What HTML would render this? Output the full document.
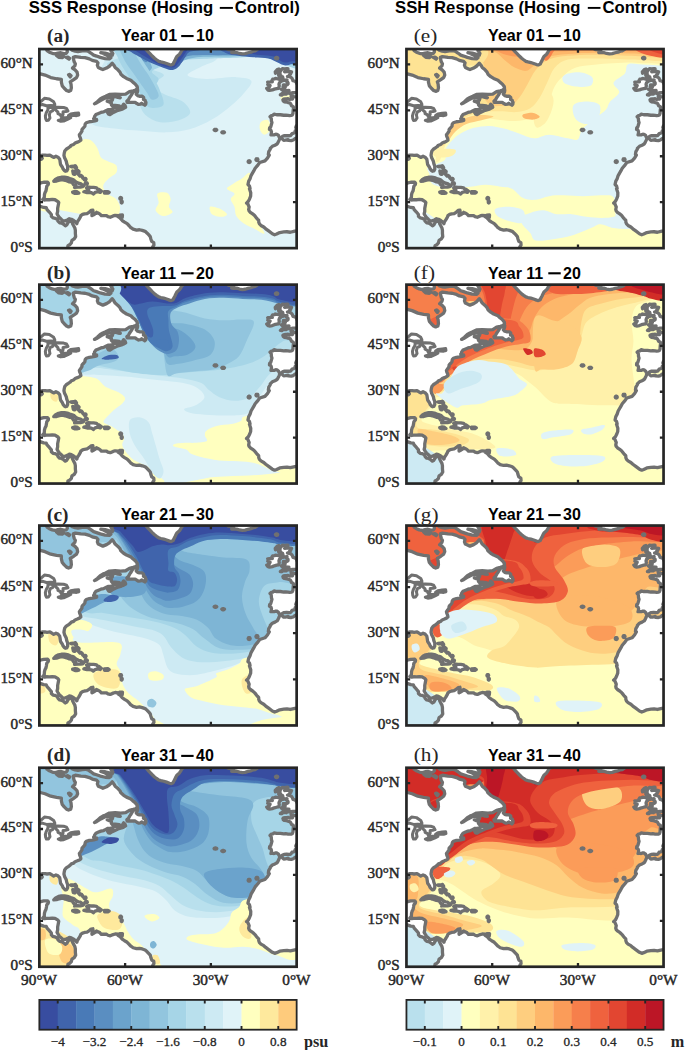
<!DOCTYPE html><html><head><meta charset="utf-8"><title>SSS/SSH Response</title><style>
html,body{margin:0;padding:0;background:#fff;}body{width:685px;height:1050px;overflow:hidden;}
svg{display:block;}text{font-family:"Liberation Serif",serif;fill:#262626;}.tl{stroke:#262626;stroke-width:0.45px;}
.sb{font-family:"Liberation Sans",sans-serif;font-weight:bold;fill:#000;}
</style></head><body>
<svg width="685" height="1050" viewBox="0 0 685 1050">
<defs>
<clipPath id="pc"><rect x="0" y="0" width="257.3" height="199.1"/></clipPath>
<g id="land">
<path d="M-14.3,24.5 L-7.1,23.9 L0.0,24.5 L5.7,26.0 L11.4,28.5 L17.2,29.7 L22.0,30.3 L22.0,33.1 L22.9,36.8 L24.9,39.2 L27.2,41.4 L29.2,42.3 L31.4,41.4 L32.0,38.9 L31.7,35.2 L30.9,32.8 L34.3,30.6 L37.2,28.5 L38.3,26.0 L37.7,23.0 L35.7,20.8 L33.2,19.0 L35.5,16.8 L36.0,14.7 L34.9,12.9 L34.3,10.7 L34.0,8.3 L36.0,7.5 L41.5,8.3 L45.7,8.6 L50.0,9.8 L52.9,11.3 L57.2,12.3 L58.6,13.8 L58.0,16.2 L58.9,18.4 L61.5,19.6 L63.5,20.5 L67.2,19.0 L70.0,17.2 L71.8,15.3 L72.9,14.1 L74.3,15.9 L75.8,18.4 L78.6,20.8 L80.6,23.0 L81.5,25.1 L84.3,27.6 L87.2,29.4 L91.5,31.2 L93.5,33.1 L95.8,34.9 L97.8,37.4 L98.1,39.2 L96.3,41.0 L93.8,41.7 L90.1,42.6 L86.3,45.0 L81.5,45.3 L75.8,45.0 L70.0,45.3 L66.3,47.2 L63.5,48.4 L60.9,49.9 L58.0,52.7 L55.2,54.8 L57.2,53.9 L61.5,51.2 L65.8,49.0 L70.0,48.4 L73.5,49.3 L72.9,51.2 L70.0,52.1 L67.8,52.1 L70.0,53.0 L72.0,53.6 L72.0,55.7 L73.5,57.3 L75.8,58.5 L78.6,59.1 L81.5,59.1 L82.9,57.3 L84.3,55.1 L85.8,56.7 L86.3,58.2 L84.3,59.4 L82.1,60.3 L78.6,61.3 L75.5,62.8 L72.9,64.0 L70.6,65.5 L69.2,65.2 L68.3,63.7 L70.0,62.2 L72.9,61.0 L73.8,60.0 L70.9,60.6 L68.6,60.6 L66.0,61.9 L64.3,62.8 L61.5,63.4 L58.6,64.6 L56.6,65.5 L55.2,67.4 L54.9,68.9 L54.3,69.5 L55.5,70.8 L57.2,70.3 L57.3,71.4 L55.7,71.8 L52.9,72.3 L50.0,72.7 L46.9,73.7 L46.0,74.7 L45.7,75.7 L45.5,77.2 L44.0,79.0 L43.0,79.9 L42.6,80.6 L42.6,82.1 L41.2,84.2 L40.0,85.8 L40.3,87.3 L41.2,89.4 L41.5,91.1 L40.0,92.2 L38.0,93.1 L35.7,94.0 L34.3,95.4 L32.0,96.2 L30.6,97.7 L28.9,98.9 L26.9,100.2 L25.4,102.0 L24.9,104.1 L24.6,106.3 L25.2,108.7 L26.0,110.3 L26.9,112.1 L27.4,114.6 L28.3,117.0 L28.3,120.1 L27.4,121.9 L26.0,122.2 L25.2,121.6 L23.7,119.8 L22.9,117.9 L21.2,115.5 L20.9,113.6 L20.6,111.5 L20.3,110.0 L18.6,108.1 L16.6,107.2 L14.3,108.4 L12.9,107.5 L10.6,106.0 L7.7,106.3 L5.7,106.0 L3.4,106.0 L1.1,106.6 L1.4,107.8 L2.9,109.4 L2.0,110.3 L0.0,110.0 L-2.9,109.4 L-11.4,108.4 L-20.0,116.4 L-21.4,131.7 L-11.4,142.4 L-4.3,142.4 L-1.4,139.4 L-1.1,136.3 L-0.9,134.8 L1.4,133.9 L4.3,133.2 L8.3,133.1 L9.1,134.2 L8.9,135.4 L7.4,137.2 L7.1,139.4 L6.6,141.8 L5.7,143.4 L5.1,145.5 L4.9,148.6 L3.4,150.4 L5.1,151.0 L7.1,150.6 L10.0,150.7 L12.9,150.4 L15.7,150.7 L18.6,152.5 L19.4,153.5 L18.9,156.2 L18.3,159.3 L18.3,162.3 L17.7,164.8 L18.6,166.3 L20.0,168.5 L21.7,170.0 L23.4,171.7 L25.7,171.8 L28.0,170.9 L30.0,169.7 L32.0,170.2 L34.3,171.5 L36.0,172.8 L37.5,174.6 L38.0,172.8 L39.5,170.6 L40.9,168.2 L41.5,166.6 L43.2,165.4 L45.2,164.8 L47.7,164.5 L50.0,163.0 L51.7,161.4 L53.5,161.1 L53.7,163.0 L52.6,165.4 L52.6,166.6 L54.3,165.7 L55.7,164.8 L57.2,163.3 L57.5,164.2 L58.6,163.9 L60.6,165.1 L62.0,166.6 L64.3,166.6 L67.2,166.6 L68.6,167.6 L70.9,168.2 L73.8,166.9 L75.8,166.3 L79.2,166.6 L80.3,166.3 L78.6,167.6 L80.6,168.8 L82.9,171.5 L85.2,173.1 L87.8,174.6 L89.8,176.7 L91.2,178.3 L93.8,180.1 L97.2,181.0 L100.1,180.7 L102.9,181.3 L105.8,182.3 L107.8,184.1 L109.5,185.9 L110.9,187.5 L111.5,189.9 L112.4,192.4 L114.4,193.6 L114.6,196.0 L113.5,197.6 L112.9,199.1 L114.4,202.2 L120.1,205.2 L120.1,214.4 L25.7,214.4 L25.7,205.2 L27.2,202.2 L28.3,199.1 L28.6,196.6 L30.3,195.7 L32.0,193.9 L32.6,191.4 L34.9,189.9 L36.3,187.5 L36.0,184.4 L36.0,181.3 L35.5,178.9 L34.3,176.7 L33.2,174.6 L32.9,172.8 L30.0,171.8 L28.6,173.7 L27.4,175.8 L26.0,176.7 L24.3,175.2 L22.3,174.0 L20.3,173.7 L18.6,172.1 L18.0,170.3 L15.4,169.1 L13.7,168.8 L12.0,167.2 L12.0,165.4 L10.0,163.0 L7.7,160.5 L6.9,158.7 L4.3,158.4 L1.4,157.4 L-1.4,156.5 L-4.3,155.6 L-8.6,151.6 L-17.2,150.1 L-28.6,147.0 L-28.6,24.5Z M104.3,-4.6 L106.4,0.0 L108.6,2.5 L110.6,4.6 L112.9,7.0 L115.2,9.2 L117.2,10.7 L119.5,12.3 L121.5,12.9 L124.4,13.5 L127.2,14.4 L130.1,15.5 L131.8,15.9 L133.8,15.0 L134.4,13.5 L135.5,11.6 L136.4,9.5 L137.5,7.4 L140.1,5.2 L141.5,3.1 L142.4,1.2 L144.4,-0.3 L148.7,-1.8 L151.5,-4.6Z M187.3,-3.1 L188.1,0.0 L189.3,0.6 L193.0,0.8 L194.4,1.8 L194.1,2.8 L192.4,3.5 L194.4,3.6 L197.3,3.5 L200.1,4.4 L203.0,4.9 L205.8,4.6 L208.7,3.7 L211.6,3.1 L213.8,2.1 L215.8,1.8 L217.3,0.9 L218.7,-0.3 L219.0,-3.1Z M28.6,-3.1 L32.9,1.2 L35.7,2.1 L38.6,2.5 L42.9,1.8 L45.7,1.5 L48.6,2.1 L51.5,4.0 L54.3,6.1 L57.2,7.0 L60.9,8.3 L65.8,9.5 L70.0,9.8 L71.5,8.6 L68.6,6.7 L64.3,4.6 L61.5,3.7 L65.8,4.0 L70.0,5.2 L72.9,6.1 L73.5,4.3 L71.5,1.5 L74.3,0.0 L77.2,-1.5 L80.0,-4.6 L28.6,-4.6Z M5.7,-3.1 L7.7,1.5 L10.0,3.1 L12.9,4.3 L15.7,4.9 L18.6,4.0 L21.4,3.7 L24.3,4.6 L26.9,4.3 L28.0,2.8 L27.2,-3.1Z M17.2,6.4 L19.4,8.3 L22.9,8.6 L24.6,7.4 L22.0,5.8 L19.2,5.8Z M26.9,8.3 L29.7,10.1 L30.3,9.2 L28.6,8.0Z M29.2,25.7 L30.9,27.9 L31.7,26.6 L30.3,25.4Z M87.8,53.3 L87.5,52.1 L89.2,50.5 L90.3,48.4 L91.8,46.3 L93.2,43.8 L94.9,42.0 L98.3,41.0 L98.1,42.9 L96.9,45.3 L98.3,46.6 L100.1,47.2 L102.9,47.2 L104.3,48.4 L104.1,50.5 L105.8,51.2 L106.1,52.7 L106.6,53.3 L106.4,55.1 L105.5,56.2 L104.3,55.4 L103.2,54.8 L102.3,54.2 L101.2,55.1 L99.2,55.4 L97.5,54.5 L95.8,53.3 L92.9,53.3 L90.1,53.3Z M72.9,46.3 L77.2,47.2 L80.9,48.7 L78.6,48.4 L74.3,47.2Z M73.2,56.4 L75.8,56.4 L80.0,56.8 L78.6,58.2 L75.8,57.3Z M14.4,132.2 L16.3,130.2 L19.2,128.8 L22.0,128.2 L25.2,128.2 L28.0,128.6 L31.4,129.9 L34.3,130.8 L36.6,132.9 L39.2,134.2 L41.2,134.5 L44.3,136.9 L43.2,137.7 L41.2,138.1 L38.6,138.0 L35.2,138.3 L36.3,136.3 L34.3,135.7 L32.6,133.2 L30.0,132.8 L27.2,131.7 L24.9,131.1 L22.9,130.5 L20.0,131.1 L17.2,132.0Z M44.5,142.7 L46.9,142.1 L49.5,141.8 L49.2,140.0 L47.3,138.8 L49.2,138.0 L51.5,138.3 L54.3,138.3 L57.2,138.8 L58.3,140.0 L59.5,140.3 L61.9,142.1 L60.9,143.4 L58.6,142.7 L55.7,143.4 L54.0,145.0 L52.3,143.7 L50.0,143.4 L47.7,143.5Z M33.3,143.0 L35.7,142.4 L37.7,142.7 L39.5,144.0 L37.5,144.4 L35.7,144.4 L33.4,143.4Z M65.0,142.7 L68.6,142.6 L69.8,143.4 L68.6,144.1 L65.2,144.1Z M80.3,166.0 L83.1,165.9 L82.9,168.3 L80.3,168.2Z M258.7,89.1 L257.6,89.0 L256.4,89.3 L255.5,89.7 L253.9,91.0 L252.0,91.6 L248.9,91.4 L248.9,90.5 L246.1,91.1 L244.4,91.3 L242.1,89.1 L240.4,89.4 L239.7,91.3 L238.4,94.0 L237.7,95.0 L235.6,96.2 L233.0,97.3 L230.9,99.4 L230.9,100.2 L229.4,102.6 L229.0,105.4 L229.9,106.0 L228.1,109.0 L225.6,111.8 L220.4,113.5 L218.7,115.8 L215.8,119.2 L214.4,121.9 L211.7,126.5 L210.7,129.6 L209.3,132.3 L208.6,135.5 L210.1,136.9 L210.7,139.4 L210.1,139.8 L211.4,143.7 L211.3,147.0 L210.1,150.1 L209.0,152.2 L207.2,154.0 L208.4,154.7 L209.3,156.8 L209.8,157.9 L209.3,160.5 L209.6,161.1 L209.6,161.7 L211.0,163.3 L213.3,164.8 L214.4,165.7 L215.6,166.9 L217.3,169.1 L218.1,170.0 L219.3,171.2 L219.4,173.1 L220.1,174.9 L221.6,176.4 L224.4,178.0 L226.4,179.8 L229.3,181.9 L233.0,184.7 L235.3,185.7 L237.3,185.0 L240.4,183.5 L244.4,182.9 L247.6,182.7 L251.0,183.2 L254.4,182.4 L256.7,181.9 L258.7,181.3 L260.2,181.3 L260.2,89.1Z M260.2,45.9 L257.9,47.6 L257.3,47.9 L255.9,47.9 L253.9,47.8 L253.6,46.9 L251.7,46.9 L252.0,48.1 L252.7,49.6 L253.0,50.1 L251.6,50.1 L250.2,50.4 L248.7,49.6 L247.0,49.8 L245.9,49.9 L244.1,50.2 L243.6,50.8 L244.6,51.5 L243.9,51.9 L244.9,52.7 L247.3,53.0 L248.7,53.5 L250.2,53.9 L251.0,54.4 L251.6,55.4 L252.2,56.7 L253.9,57.6 L254.2,59.1 L253.9,60.3 L253.7,62.5 L253.6,64.3 L253.0,65.9 L252.2,66.3 L250.2,66.5 L248.7,66.3 L246.4,66.0 L244.4,66.2 L241.0,65.7 L238.7,65.7 L237.3,65.7 L234.7,65.1 L233.6,66.2 L231.9,66.5 L230.7,67.7 L231.9,69.2 L232.0,70.5 L232.1,72.0 L232.6,73.5 L231.9,76.0 L231.4,77.8 L230.3,78.7 L230.1,80.4 L231.0,80.7 L231.6,81.3 L232.1,82.7 L232.0,84.2 L231.6,85.8 L233.0,85.5 L234.7,85.8 L236.4,85.2 L237.6,85.3 L239.1,86.4 L239.6,87.6 L240.1,88.2 L241.3,88.8 L242.0,88.4 L243.3,87.3 L244.7,86.7 L247.3,86.5 L249.6,86.7 L251.0,86.6 L251.9,85.8 L252.7,84.5 L254.4,84.1 L255.3,83.6 L255.9,81.8 L257.3,80.7 L257.9,80.4 L257.0,79.6 L256.4,78.4 L257.0,76.9 L258.2,75.7 L260.2,75.7Z M260.2,43.8 L257.3,43.6 L255.0,43.6 L253.6,43.6 L251.6,44.0 L250.3,44.3 L248.7,43.8 L247.4,44.1 L247.0,45.0 L245.6,44.9 L243.9,45.0 L242.4,46.0 L241.0,45.8 L241.6,45.3 L243.0,44.4 L244.1,43.2 L245.3,42.3 L247.3,42.3 L248.7,41.8 L249.6,41.4 L248.2,41.5 L245.6,41.0 L245.0,40.7 L243.0,40.9 L242.1,40.3 L243.0,39.8 L245.0,38.9 L245.9,38.0 L244.4,37.4 L243.7,37.4 L244.7,36.8 L244.1,35.8 L245.9,35.8 L247.9,35.7 L248.7,34.9 L248.7,33.7 L248.2,33.1 L247.0,32.2 L247.6,30.9 L245.9,31.1 L243.3,31.7 L242.7,30.6 L243.6,29.1 L243.3,27.9 L241.3,29.7 L241.0,28.2 L241.6,26.6 L240.1,25.7 L240.7,24.5 L239.3,23.3 L241.0,22.1 L242.1,20.8 L243.0,19.6 L245.0,19.8 L247.6,19.5 L248.6,19.5 L248.4,20.5 L246.4,21.7 L245.3,22.8 L247.3,22.5 L250.2,22.4 L252.2,22.8 L251.6,23.9 L251.3,24.8 L250.2,25.7 L249.9,26.6 L248.2,27.4 L249.9,27.6 L251.6,28.2 L252.7,29.4 L253.3,30.6 L253.6,31.7 L255.6,32.2 L257.0,33.4 L257.6,34.9 L260.2,35.2Z M236.1,29.4 L239.6,30.0 L241.0,31.2 L241.6,32.5 L240.1,33.7 L239.6,35.2 L239.9,36.8 L239.3,39.2 L237.3,39.5 L235.0,40.1 L233.0,40.9 L230.1,41.4 L228.7,41.0 L227.9,40.1 L227.4,39.4 L229.6,38.3 L230.1,37.8 L230.7,36.5 L228.4,35.5 L229.3,34.3 L228.4,33.1 L231.6,32.8 L233.0,32.8 L232.4,31.7 L233.3,30.2 L235.3,29.9Z M31.4,117.3 L34.3,117.2 L34.6,117.9 L32.0,117.9Z M36.0,116.7 L37.2,118.5 L36.6,119.8 L35.7,117.9Z M33.4,121.9 L35.2,122.5 L35.5,125.3 L34.0,125.0Z M38.0,121.0 L39.7,122.5 L39.5,123.4 L38.6,122.2Z M37.5,123.7 L40.6,127.1 L41.2,126.8 L38.0,123.4Z M42.0,126.5 L43.5,129.0 L42.9,127.4Z M48.0,134.5 L47.7,133.9 L46.9,133.7 L46.1,133.9 L45.7,134.5 L46.1,135.0 L46.9,135.2 L47.7,135.0Z M46.7,130.2 L46.4,129.5 L45.7,129.3 L45.0,129.5 L44.7,130.2 L45.0,130.8 L45.7,131.1 L46.4,130.8Z M82.2,149.3 L81.9,148.7 L81.3,148.4 L80.7,148.7 L80.5,149.3 L80.7,150.0 L81.3,150.2 L81.9,150.0Z M82.9,152.8 L82.7,152.1 L82.3,151.8 L81.9,152.1 L81.8,152.8 L81.9,153.6 L82.3,153.9 L82.7,153.6Z M177.4,80.9 L177.0,80.4 L176.1,80.3 L175.2,80.4 L174.8,80.9 L175.2,81.3 L176.1,81.5 L177.0,81.3Z M185.1,83.3 L184.7,82.9 L183.8,82.7 L182.9,82.9 L182.5,83.3 L182.9,83.7 L183.8,83.9 L184.7,83.7Z M210.8,112.6 L210.5,111.9 L209.8,111.6 L209.1,111.9 L208.8,112.6 L209.1,113.2 L209.8,113.5 L210.5,113.2Z M218.6,110.6 L218.3,109.9 L217.6,109.7 L216.9,109.9 L216.6,110.6 L216.9,111.2 L217.6,111.5 L218.3,111.2Z M238.4,9.0 L238.1,8.5 L237.3,8.3 L236.5,8.5 L236.1,9.0 L236.5,9.6 L237.3,9.8 L238.1,9.6Z M236.1,24.2 L239.6,19.9 L237.9,20.5 L235.9,22.7Z M240.7,23.6 L240.4,22.9 L239.6,22.7 L238.8,22.9 L238.4,23.6 L238.8,24.2 L239.6,24.5 L240.4,24.2Z M241.0,26.2 L240.8,25.8 L240.1,25.6 L239.5,25.8 L239.3,26.2 L239.5,26.6 L240.1,26.8 L240.8,26.6Z" fill="#fff" stroke="#707070" stroke-width="3.3" stroke-linejoin="round" fill-rule="nonzero"/>
<path d="M-6.0,56.1 L-1.4,56.4 L2.9,55.4 L7.1,56.7 L11.4,56.4 L15.4,56.7 L15.4,55.1 L14.3,52.7 L10.0,49.9 L5.1,49.3 L2.0,52.1 L-2.0,54.2Z M8.6,58.5 L11.4,58.5 L14.3,59.1 L13.2,61.9 L10.9,62.8 L10.0,65.9 L10.6,68.9 L9.1,71.2 L7.1,71.4 L6.3,69.5 L6.0,66.8 L6.9,63.7 L8.6,60.6Z M15.2,58.5 L18.6,58.2 L24.3,58.5 L27.2,59.4 L28.6,61.9 L26.3,62.5 L23.7,62.8 L23.7,65.5 L21.7,67.4 L21.2,65.9 L18.6,64.6 L18.6,63.1 L15.7,60.3Z M18.9,71.4 L21.4,72.3 L24.3,72.0 L28.6,70.1 L31.4,68.6 L30.0,67.7 L27.2,68.6 L24.3,68.6 L21.4,70.5Z M29.2,66.5 L32.9,66.3 L37.2,66.6 L39.5,65.9 L39.2,64.0 L35.7,64.3 L31.4,64.9Z" fill="none" stroke="#707070" stroke-width="3.0" stroke-linejoin="round"/>
</g>
</defs>
<g transform="translate(39.35,49.05) scale(1,1.0000)">
<g clip-path="url(#pc)">
<rect x="-5" y="-5" width="270" height="210" fill="#e0f3f8"/><path d="M52.5,75.0C56.6,78.3 66.9,78.4 75.0,79.5C83.2,80.7 92.6,81.2 101.3,81.8C110.1,82.4 119.4,83.6 127.6,83.3C135.7,83.1 142.6,82.4 150.1,80.3C157.6,78.2 165.7,74.4 172.6,70.5C179.5,66.7 186.1,61.4 191.4,57.0C196.7,52.7 201.1,48.5 204.5,44.3C207.9,40.1 213.3,34.6 212.0,31.9C210.8,29.2 204.5,28.5 197.0,28.1C189.5,27.8 175.1,30.3 167.0,30.0C158.8,29.7 149.2,28.3 148.2,26.3C147.3,24.3 156.7,20.5 161.4,18.0C166.0,15.5 173.9,13.6 176.4,11.3C178.9,8.9 182.0,5.1 176.4,3.8C170.7,2.4 153.2,3.1 142.6,3.0C132.0,2.9 121.3,3.2 112.6,3.0C103.8,2.8 96.9,1.4 90.1,1.9C83.2,2.3 76.3,2.2 71.3,5.6C66.3,9.1 62.5,16.6 60.0,22.5C57.5,28.5 57.8,35.0 56.3,41.3C54.7,47.5 51.3,54.4 50.7,60.0C50.0,65.7 48.5,71.8 52.5,75.0Z" fill="#cdeaf3"/><path d="M67.5,15.0C66.5,17.5 77.4,18.8 80.7,22.5C83.9,26.3 84.1,32.5 87.1,37.5C90.0,42.5 95.2,47.8 98.3,52.5C101.4,57.2 102.1,62.2 105.8,65.7C109.6,69.1 115.2,72.2 120.8,73.2C126.5,74.1 134.6,72.9 139.6,71.3C144.6,69.7 150.2,66.9 150.8,63.8C151.5,60.7 147.7,55.7 143.3,52.5C139.0,49.4 129.6,47.8 124.6,45.0C119.6,42.2 113.3,38.8 113.3,35.6C113.3,32.5 124.6,28.8 124.6,26.3C124.6,23.8 117.7,22.5 113.3,20.6C108.9,18.8 102.7,17.2 98.3,15.0C93.9,12.8 92.2,7.5 87.1,7.5C81.9,7.5 68.6,12.5 67.5,15.0Z" fill="#b9e0ed"/><path d="M84.4,-1.9C56.3,-0.0 88.2,5.6 90.1,9.4C91.9,13.1 93.5,16.9 95.7,20.6C97.9,24.4 100.4,29.1 103.2,31.9C106.0,34.7 109.9,37.8 112.6,37.5C115.3,37.2 119.3,32.5 119.3,30.0C119.3,27.5 111.8,24.7 112.6,22.5C113.3,20.3 118.8,18.8 123.8,16.9C128.8,15.0 135.7,12.4 142.6,11.3C149.5,10.1 157.6,10.1 165.1,9.8C172.6,9.4 177.6,9.3 187.6,9.0C197.6,8.8 213.3,6.5 225.1,8.3C237.0,10.0 253.3,21.2 258.9,19.5C264.5,17.8 288.0,1.7 258.9,-1.9C229.8,-5.4 112.6,-3.8 84.4,-1.9Z" fill="#a6d5e7"/><path d="M85.6,-1.9C57.7,-0.0 89.8,5.9 91.9,9.4C94.1,12.8 95.8,16.4 98.3,18.8C100.8,21.1 104.6,23.3 106.9,23.3C109.3,23.3 111.9,20.8 112.6,18.8C113.2,16.8 108.8,11.6 110.7,11.3C112.6,10.9 119.1,16.6 123.8,16.9C128.5,17.2 133.2,14.6 138.8,13.1C144.5,11.7 149.5,9.2 157.6,8.3C165.7,7.3 176.4,7.8 187.6,7.5C198.9,7.3 213.3,5.3 225.1,6.8C237.0,8.3 253.3,17.9 258.9,16.5C264.5,15.1 287.8,1.2 258.9,-1.9C230.0,-4.9 113.4,-3.8 85.6,-1.9Z" fill="#7eb5d5"/><path d="M93.8,-1.9C67.2,-0.3 97.2,5.0 99.4,7.5C101.6,10.0 104.8,13.1 106.9,13.1C109.1,13.1 110.4,7.2 112.6,7.5C114.8,7.8 116.9,13.1 120.1,15.0C123.2,16.9 127.6,19.1 131.3,18.8C135.1,18.4 139.5,15.1 142.6,13.1C145.7,11.1 142.6,7.9 150.1,6.8C157.6,5.6 175.1,6.3 187.6,6.0C200.1,5.8 213.3,3.8 225.1,5.3C237.0,6.8 253.3,16.2 258.9,15.0C264.5,13.8 286.4,0.9 258.9,-1.9C231.4,-4.7 120.4,-3.4 93.8,-1.9Z" fill="#5a8ec1"/><path d="M75.0,-1.9C71.7,-0.8 76.8,4.4 78.0,7.5C79.3,10.6 80.8,13.8 82.6,16.9C84.3,20.0 86.4,23.0 88.6,26.3C90.7,29.6 93.2,33.1 95.7,36.8C98.1,40.4 100.9,44.5 103.2,48.0C105.5,51.6 106.1,56.8 109.6,58.2C113.0,59.5 122.0,59.0 123.8,56.3C125.7,53.6 122.4,46.5 120.8,42.0C119.3,37.5 116.6,33.1 114.4,29.3C112.3,25.4 110.1,22.1 108.1,18.8C106.0,15.4 103.7,12.4 102.1,9.4C100.4,6.4 102.8,2.6 98.3,0.8C93.8,-1.1 78.4,-3.0 75.0,-1.9Z" fill="#a6d5e7"/><path d="M80.7,-1.9C78.9,-0.8 82.1,4.6 83.3,7.5C84.5,10.4 86.1,13.0 87.8,15.8C89.6,18.5 91.7,21.0 93.8,24.0C95.9,27.0 98.3,30.6 100.6,33.8C102.8,37.0 105.3,40.3 107.3,43.2C109.3,46.0 110.6,50.0 112.6,50.7C114.6,51.3 118.9,49.3 119.3,46.9C119.7,44.5 116.6,39.6 114.8,36.0C113.1,32.5 110.8,28.7 108.8,25.5C106.8,22.3 104.7,19.8 102.8,16.9C100.9,14.0 99.1,10.9 97.6,8.3C96.1,5.6 96.6,2.4 93.8,0.8C91.0,-0.9 82.4,-3.0 80.7,-1.9Z" fill="#92c5de"/><path d="M88.2,-1.9C76.5,-1.1 90.1,1.4 91.9,3.0C93.8,4.6 96.6,5.9 99.4,7.5C102.3,9.1 106.0,11.0 108.8,12.4C111.6,13.8 113.8,14.7 116.3,15.8C118.8,16.8 121.6,17.9 123.8,18.8C126.0,19.6 127.7,20.3 129.5,20.6C131.2,21.0 132.8,21.1 134.3,20.6C135.9,20.2 137.5,19.3 138.8,18.0C140.2,16.8 141.3,14.9 142.6,13.1C143.8,11.4 145.1,9.2 146.3,7.5C147.6,5.8 147.6,4.1 150.1,3.0C152.6,1.9 159.3,1.6 161.4,0.8C163.4,-0.1 174.3,-1.4 162.1,-1.9C149.9,-2.3 99.9,-2.7 88.2,-1.9Z" fill="#4064ac"/><path d="M185.7,-1.9C173.9,-0.8 185.4,3.1 187.6,4.5C189.8,5.9 194.5,6.1 198.9,6.8C203.3,7.4 208.9,7.8 213.9,8.3C218.9,8.7 224.8,8.5 228.9,9.4C233.0,10.3 235.5,12.3 238.3,13.5C241.1,14.7 243.5,16.3 245.8,16.5C248.1,16.8 250.0,15.5 252.2,15.0C254.3,14.5 257.8,16.3 258.9,13.5C260.0,10.7 271.1,0.7 258.9,-1.9C246.7,-4.4 197.6,-2.9 185.7,-1.9Z" fill="#4064ac"/><path d="M93.8,-1.9C85.4,-1.1 96.1,1.3 98.3,3.0C100.5,4.7 104.3,6.6 106.9,8.3C109.6,9.9 111.9,11.4 114.4,12.8C116.9,14.1 119.6,15.3 122.0,16.1C124.3,17.0 126.4,17.6 128.3,18.0C130.3,18.4 132.1,18.7 133.6,18.4C135.1,18.1 136.1,17.3 137.3,16.1C138.6,14.9 139.8,13.0 141.1,11.3C142.3,9.5 143.7,7.3 144.8,5.6C146.0,3.9 147.2,2.4 147.8,1.1C148.5,-0.1 157.6,-1.4 148.6,-1.9C139.6,-2.4 102.2,-2.7 93.8,-1.9Z" fill="#384da0"/><path d="M195.1,-1.9C185.1,-1.1 196.4,1.9 198.9,3.0C201.4,4.1 206.4,4.0 210.1,4.5C213.9,5.0 217.3,5.5 221.4,6.0C225.5,6.5 231.4,6.6 234.5,7.5C237.6,8.4 238.3,10.3 240.2,11.3C242.0,12.3 243.9,13.3 245.8,13.5C247.7,13.7 249.2,12.9 251.4,12.4C253.6,11.9 257.7,12.9 258.9,10.5C260.2,8.1 269.5,0.2 258.9,-1.9C248.3,-3.9 205.1,-2.7 195.1,-1.9Z" fill="#384da0"/><path d="M-1.9,106.9C0.9,98.4 10.3,107.6 15.0,106.2C19.7,104.8 22.8,100.4 26.3,98.3C29.7,96.2 32.5,95.2 35.6,93.8C38.8,92.4 42.2,90.4 45.0,90.1C47.8,89.7 50.3,90.4 52.5,91.9C54.7,93.5 56.6,96.6 58.2,99.4C59.7,102.3 60.0,106.6 61.9,108.8C63.8,111.0 66.9,111.3 69.4,112.6C71.9,113.8 75.7,114.4 76.9,116.3C78.2,118.2 78.2,121.6 76.9,123.8C75.7,126.0 71.6,127.3 69.4,129.5C67.2,131.6 64.1,134.5 63.8,137.0C63.5,139.5 65.4,142.3 67.5,144.5C69.7,146.7 74.7,147.6 76.9,150.1C79.1,152.6 81.0,156.7 80.7,159.5C80.4,162.3 81.0,166.0 75.0,167.0C69.1,167.9 53.8,166.0 45.0,165.1C36.3,164.2 30.3,162.6 22.5,161.4C14.7,160.1 2.2,166.7 -1.9,157.6C-5.9,148.5 -4.7,115.5 -1.9,106.9Z" fill="#ffffbf"/><path d="M118.2,144.5C119.6,142.8 125.4,142.8 127.6,143.7C129.8,144.7 131.0,147.8 131.3,150.1C131.6,152.4 129.1,155.4 129.5,157.6C129.8,159.8 134.1,161.7 133.2,163.2C132.3,164.8 126.6,167.3 123.8,167.0C121.0,166.7 117.1,163.5 116.3,161.4C115.6,159.2 119.0,156.7 119.3,153.8C119.6,151.0 116.8,146.2 118.2,144.5Z" fill="#ffffbf"/><path d="M210.1,123.8C208.6,122.9 205.4,127.6 202.6,129.5C199.8,131.3 195.7,133.4 193.2,135.1C190.7,136.8 187.3,138.0 187.6,139.6C187.9,141.2 194.5,142.7 195.1,144.5C195.7,146.2 191.4,147.9 191.4,150.1C191.4,152.3 194.2,154.8 195.1,157.6C196.1,160.4 195.4,164.2 197.0,167.0C198.6,169.8 201.4,172.3 204.5,174.5C207.6,176.7 212.3,178.5 215.8,180.1C219.2,181.7 225.5,186.4 225.1,183.9C224.8,181.4 216.4,170.7 213.9,165.1C211.4,159.5 210.4,155.1 210.1,150.1C209.8,145.1 212.0,139.5 212.0,135.1C212.0,130.7 211.7,124.8 210.1,123.8Z" fill="#ffffbf"/><path d="M170.7,157.6C172.0,156.7 177.3,158.2 180.1,159.5C182.9,160.7 187.3,163.7 187.6,165.1C187.9,166.5 184.5,167.7 182.0,167.7C179.5,167.7 174.5,166.8 172.6,165.1C170.7,163.4 169.5,158.5 170.7,157.6Z" fill="#ffffbf"/><path d="M221.4,73.2C222.8,71.6 227.3,70.0 228.9,71.3C230.5,72.5 231.4,78.3 230.8,80.7C230.1,83.1 226.8,85.6 225.1,85.6C223.5,85.6 221.3,82.7 220.6,80.7C220.0,78.6 220.0,74.7 221.4,73.2Z" fill="#ffffbf"/><path d="M242.0,46.9C243.9,46.0 253.0,46.0 255.2,46.9C257.3,47.8 257.0,51.6 255.2,52.5C253.3,53.5 246.1,53.5 243.9,52.5C241.7,51.6 240.2,47.8 242.0,46.9Z" fill="#ffffbf"/>
<use href="#land"/>
</g></g>
<rect x="39.35" y="49.05" width="257.30" height="199.10" fill="none" stroke="#262626" stroke-width="2.7"/>
<path d="M39.35,202.20h3.7M296.65,202.20h-3.7M39.35,156.26h3.7M296.65,156.26h-3.7M39.35,110.31h3.7M296.65,110.31h-3.7M39.35,64.37h3.7M296.65,64.37h-3.7M125.12,49.05v3.7M125.12,248.15v-3.7M210.88,49.05v3.7M210.88,248.15v-3.7" stroke="#262626" stroke-width="2.3" fill="none"/>
<text class="tl" x="32.70" y="67.87" font-size="15.2" text-anchor="end">60°N</text>
<text class="tl" x="32.70" y="113.81" font-size="15.2" text-anchor="end">45°N</text>
<text class="tl" x="32.70" y="159.76" font-size="15.2" text-anchor="end">30°N</text>
<text class="tl" x="32.70" y="205.70" font-size="15.2" text-anchor="end">15°N</text>
<text class="tl" x="32.70" y="251.65" font-size="15.2" text-anchor="end">0°S</text>
<g transform="translate(39.35,284.65) scale(1,0.9990)">
<g clip-path="url(#pc)">
<rect x="-5" y="-5" width="270" height="210" fill="#e0f3f8"/><path d="M-1.9,-1.9C41.6,-13.4 215.4,-18.6 258.9,-1.9C302.4,14.8 262.0,81.6 258.9,98.3C255.8,115.0 245.0,98.1 240.2,98.3C235.3,98.6 233.3,97.0 229.6,99.8C226.0,102.6 221.5,110.8 218.4,115.2C215.3,119.6 213.4,124.0 210.9,126.5C208.4,129.0 207.8,129.5 203.4,130.2C199.0,131.0 190.9,131.0 184.6,131.0C178.3,131.0 171.2,130.6 165.5,130.2C159.8,129.8 153.9,129.3 150.5,128.3C147.0,127.4 143.9,125.8 144.8,124.6C145.8,123.3 152.7,122.8 156.1,120.8C159.5,118.8 164.9,115.5 165.1,112.6C165.4,109.6 161.4,105.6 157.6,103.2C153.8,100.8 148.8,99.6 142.6,98.3C136.3,97.1 127.6,96.6 120.1,95.7C112.6,94.8 105.1,93.8 97.6,93.1C90.1,92.3 81.9,91.7 75.0,91.2C68.2,90.7 61.9,90.4 56.3,90.1C50.7,89.7 46.9,91.2 41.3,89.3C35.6,87.4 29.7,82.4 22.5,78.8C15.3,75.2 2.2,81.0 -1.9,67.5C-5.9,54.1 -45.3,9.7 -1.9,-1.9Z" fill="#cdeaf3"/><path d="M-1.9,-1.9C41.6,-10.9 215.4,-14.7 258.9,-1.9C302.4,10.9 261.4,61.3 258.9,75.0C256.4,88.8 248.8,78.2 243.9,80.7C239.0,83.2 233.4,86.6 229.6,90.1C225.9,93.5 224.6,97.6 221.4,101.3C218.1,105.1 214.5,110.1 210.1,112.6C205.8,115.1 200.1,116.3 195.1,116.3C190.1,116.3 184.4,114.4 180.1,112.6C175.8,110.7 172.4,107.4 169.2,105.1C166.1,102.7 165.8,100.2 161.4,98.3C156.9,96.4 149.5,95.0 142.6,93.8C135.7,92.6 127.6,92.1 120.1,91.2C112.6,90.2 105.1,89.1 97.6,88.2C90.1,87.2 81.9,86.4 75.0,85.6C68.2,84.7 62.2,83.5 56.3,83.3C50.3,83.1 45.0,86.4 39.4,84.4C33.8,82.4 29.4,76.6 22.5,71.3C15.6,66.0 2.2,64.7 -1.9,52.5C-5.9,40.3 -45.3,7.2 -1.9,-1.9Z" fill="#b9e0ed"/><path d="M-1.9,-1.9C41.6,-9.7 215.4,-10.9 258.9,-1.9C302.4,7.2 261.4,42.8 258.9,52.5C256.4,62.2 249.5,53.2 243.9,56.3C238.3,59.4 230.8,67.5 225.1,71.3C219.5,75.0 215.1,76.9 210.1,78.8C205.1,80.7 200.8,81.4 195.1,82.6C189.5,83.7 182.6,84.8 176.4,85.6C170.1,86.3 163.9,86.6 157.6,87.1C151.3,87.6 143.8,88.0 138.8,88.6C133.9,89.1 132.3,90.2 128.0,90.4C123.6,90.7 118.3,90.4 112.6,90.1C106.9,89.7 100.1,89.1 93.8,88.2C87.6,87.2 81.3,85.7 75.0,84.4C68.8,83.2 61.6,81.6 56.3,80.7C51.0,79.7 48.8,82.2 43.2,78.8C37.5,75.4 30.0,65.7 22.5,60.0C15.0,54.4 2.2,55.3 -1.9,45.0C-5.9,34.7 -45.3,5.9 -1.9,-1.9Z" fill="#a6d5e7"/><path d="M86.3,7.5C86.3,8.8 94.4,15.6 97.6,18.8C100.8,21.9 102.9,23.1 105.4,26.3C108.0,29.4 111.1,34.1 112.9,37.5C114.8,41.0 115.4,44.0 116.7,46.9C117.9,49.8 119.3,51.7 120.5,54.8C121.6,57.9 122.6,59.7 123.8,65.7C125.1,71.6 125.7,86.6 128.0,90.4C130.2,94.2 132.6,89.2 137.3,88.6C142.0,87.9 149.8,87.3 156.1,86.7C162.4,86.1 169.9,86.1 175.2,84.8C180.6,83.6 184.3,81.4 188.4,79.2C192.4,77.0 196.5,75.4 199.6,71.7C202.8,67.9 204.6,62.4 207.1,56.7C209.6,51.0 215.3,41.2 214.6,37.5C214.0,33.9 208.4,35.2 203.4,34.9C198.4,34.6 190.9,35.8 184.6,35.6C178.3,35.5 171.8,35.0 165.5,33.8C159.2,32.5 153.0,29.7 146.7,28.1C140.5,26.6 133.6,26.0 128.0,24.4C122.3,22.8 117.6,21.0 112.6,18.8C107.5,16.6 101.9,13.1 97.6,11.3C93.2,9.4 86.3,6.3 86.3,7.5Z" fill="#92c5de"/><path d="M37.5,88.6C36.6,86.7 40.0,78.5 43.2,75.4C46.3,72.3 51.9,71.7 56.7,69.8C61.4,67.9 67.9,63.9 71.7,64.2C75.4,64.4 78.6,69.2 79.2,71.3C79.7,73.4 78.2,75.4 75.0,76.9C71.9,78.5 64.4,79.1 60.0,80.7C55.7,82.2 52.5,85.0 48.8,86.3C45.0,87.6 38.5,90.4 37.5,88.6Z" fill="#92c5de"/><path d="M97.6,18.8C96.4,18.8 102.9,23.1 105.4,26.3C108.0,29.4 111.1,34.1 112.9,37.5C114.8,41.0 115.4,44.0 116.7,46.9C117.9,49.8 119.3,52.0 120.5,54.8C121.6,57.6 122.6,59.7 123.8,63.8C125.1,67.9 125.4,76.6 128.0,79.2C130.5,81.7 134.5,79.8 139.2,79.2C143.9,78.5 150.7,77.0 156.1,75.4C161.5,73.9 168.3,72.9 171.5,69.8C174.7,66.7 176.2,60.8 175.2,56.7C174.2,52.5 170.2,47.9 165.5,45.0C160.7,42.2 153.0,40.7 146.7,39.4C140.5,38.1 133.6,39.7 128.0,37.5C122.3,35.3 117.6,29.4 112.6,26.3C107.5,23.1 98.7,18.8 97.6,18.8Z" fill="#7eb5d5"/><path d="M97.9,18.8C97.4,19.4 102.9,23.1 105.4,26.3C107.9,29.4 111.1,34.1 112.9,37.5C114.8,41.0 115.4,44.0 116.7,46.9C117.9,49.8 118.6,50.7 120.5,54.8C122.3,58.9 125.5,68.9 128.0,71.7C130.5,74.5 132.0,72.0 135.5,71.7C138.9,71.4 145.2,71.4 148.6,69.8C152.0,68.2 155.8,65.1 156.1,62.3C156.4,59.5 153.3,55.8 150.5,52.9C147.7,50.0 143.0,46.7 139.2,45.0C135.5,43.4 131.8,45.0 128.0,43.2C124.1,41.3 119.5,37.2 116.3,33.8C113.1,30.3 111.9,25.0 108.8,22.5C105.8,20.0 98.5,18.1 97.9,18.8Z" fill="#6ba3cc"/><path d="M76.9,-1.9C47.2,-0.6 79.0,2.9 80.7,5.6C82.4,8.3 85.0,11.4 87.1,14.3C89.1,17.1 91.2,19.3 93.1,22.5C94.9,25.8 96.6,30.0 98.3,33.8C100.0,37.5 101.6,41.6 103.2,45.0C104.8,48.5 106.2,51.6 108.1,54.4C109.9,57.2 112.1,59.7 114.4,61.9C116.8,64.1 119.5,66.3 122.0,67.5C124.4,68.8 126.6,69.7 129.1,69.4C131.6,69.1 135.2,67.9 137.0,65.7C138.7,63.5 139.4,59.4 139.6,56.3C139.8,53.2 139.3,49.7 138.1,46.9C136.8,44.1 133.2,42.5 132.1,39.4C131.0,36.3 130.2,31.0 131.3,28.1C132.5,25.3 135.7,24.1 138.8,22.5C142.0,21.0 145.7,20.1 150.1,18.8C154.5,17.4 159.7,15.2 165.5,14.3C171.2,13.3 178.3,13.1 184.6,13.1C190.9,13.1 197.1,13.9 203.4,14.3C209.6,14.6 216.0,14.3 222.1,15.0C228.3,15.8 234.0,17.8 240.2,18.8C246.3,19.7 255.8,24.1 258.9,20.6C262.0,17.2 289.2,1.9 258.9,-1.9C228.6,-5.6 106.6,-3.1 76.9,-1.9Z" fill="#5a8ec1"/><path d="M75.0,-1.9C45.2,-0.6 77.7,2.9 79.5,5.6C81.4,8.3 84.2,11.4 86.3,14.3C88.4,17.1 90.4,19.4 92.3,22.5C94.2,25.6 95.9,29.4 97.6,33.0C99.2,36.6 100.8,40.9 102.4,44.3C104.1,47.7 105.6,50.8 107.3,53.3C109.0,55.8 110.4,57.5 112.6,59.3C114.7,61.0 117.3,62.7 120.1,63.8C122.8,64.9 126.9,66.4 129.1,66.0C131.3,65.7 132.8,64.2 133.2,61.9C133.6,59.7 132.0,55.3 131.3,52.5C130.7,49.7 129.8,47.8 129.5,45.0C129.1,42.2 129.1,38.8 129.1,35.6C129.0,32.5 127.7,28.6 129.1,26.3C130.5,24.0 134.4,23.3 137.3,21.8C140.3,20.3 142.0,18.8 146.7,17.3C151.4,15.8 159.2,13.7 165.5,12.8C171.8,11.8 178.3,11.6 184.6,11.6C190.9,11.6 197.1,12.4 203.4,12.8C209.6,13.1 217.1,13.1 222.1,13.5C227.1,13.9 230.3,14.5 233.4,15.4C236.5,16.3 236.6,18.1 240.9,18.8C245.2,19.4 255.9,23.0 258.9,19.5C261.9,16.1 289.6,1.7 258.9,-1.9C228.3,-5.4 104.9,-3.1 75.0,-1.9Z" fill="#497ab7"/><path d="M74.3,-1.9C44.3,-0.4 77.3,4.1 79.2,6.8C81.1,9.4 83.6,11.9 85.6,14.3C87.6,16.6 89.4,18.3 91.2,20.6C92.9,23.0 94.5,25.3 96.1,28.1C97.6,31.0 99.1,34.4 100.6,37.5C102.1,40.7 103.6,44.4 105.1,46.9C106.6,49.4 108.2,51.7 109.6,52.5C110.9,53.3 112.6,53.0 113.3,51.8C114.0,50.5 114.1,47.4 113.7,45.0C113.3,42.7 112.0,40.0 111.1,37.5C110.1,35.0 108.4,32.3 108.1,30.0C107.7,27.8 107.4,25.4 108.8,24.0C110.2,22.6 112.9,22.2 116.3,21.8C119.7,21.3 125.6,21.6 129.1,21.4C132.6,21.1 134.4,21.2 137.3,20.3C140.3,19.3 142.0,17.3 146.7,15.8C151.4,14.3 159.2,12.2 165.5,11.3C171.8,10.3 178.3,10.1 184.6,10.1C190.9,10.1 197.1,10.9 203.4,11.3C209.6,11.6 217.1,11.6 222.1,12.0C227.1,12.4 230.3,13.0 233.4,13.9C236.5,14.8 236.6,16.4 240.9,17.3C245.2,18.1 255.9,22.0 258.9,18.8C261.9,15.6 289.7,1.6 258.9,-1.9C228.1,-5.3 104.3,-3.3 74.3,-1.9Z" fill="#4064ac"/><path d="M73.5,-1.9C43.6,-0.3 77.0,4.7 79.2,7.5C81.4,10.3 84.2,12.9 86.7,15.0C89.2,17.1 91.7,19.3 94.2,19.9C96.7,20.5 98.6,19.3 101.7,18.8C104.8,18.3 108.6,16.9 112.9,16.9C117.3,16.9 123.9,18.6 128.0,18.8C132.0,18.9 134.2,18.9 137.3,18.0C140.5,17.1 142.0,14.7 146.7,13.1C151.4,11.6 159.2,9.6 165.5,8.6C171.8,7.7 178.3,7.5 184.6,7.5C190.9,7.5 197.1,8.3 203.4,8.6C209.6,8.9 217.1,8.9 222.1,9.4C227.1,9.8 230.3,10.3 233.4,11.3C236.5,12.2 236.6,14.2 240.9,15.0C245.2,15.8 255.9,18.9 258.9,16.1C261.9,13.3 289.8,1.1 258.9,-1.9C228.0,-4.9 103.5,-3.4 73.5,-1.9Z" fill="#384da0"/><path d="M62.3,74.3C62.0,73.5 67.3,71.2 69.8,70.5C72.3,69.9 75.7,70.0 77.3,70.5C78.9,71.0 80.1,72.8 79.2,73.5C78.2,74.3 74.5,74.9 71.7,75.0C68.9,75.2 62.6,75.0 62.3,74.3Z" fill="#4064ac"/><path d="M116.7,56.7C117.0,55.0 122.1,54.8 124.2,54.8C126.3,54.8 128.3,54.8 129.1,56.7C129.9,58.5 130.2,64.7 129.1,66.0C128.0,67.4 124.4,66.5 122.3,64.9C120.3,63.4 116.4,58.3 116.7,56.7Z" fill="#497ab7"/><path d="M-1.9,-1.9C11.0,-9.4 62.5,-4.7 75.4,-1.9C88.3,0.9 78.5,11.6 75.4,15.0C72.3,18.4 63.0,14.1 56.7,18.8C50.3,23.5 47.3,39.1 37.5,43.2C27.8,47.2 4.7,50.7 -1.9,43.2C-8.4,35.6 -14.8,5.6 -1.9,-1.9Z" fill="#a6d5e7"/><path d="M-1.9,93.8C1.6,75.9 12.2,93.5 18.8,93.1C25.3,92.6 31.3,91.1 37.5,91.2C43.8,91.3 51.5,92.0 56.3,93.8C61.0,95.6 62.2,99.7 66.0,102.1C69.9,104.4 75.9,105.8 79.2,107.7C82.4,109.6 84.9,111.4 85.6,113.3C86.2,115.2 84.6,117.1 82.9,118.9C81.2,120.8 77.9,122.4 75.4,124.6C72.9,126.8 69.8,129.9 67.9,132.1C66.0,134.3 63.5,136.1 64.2,137.7C64.8,139.3 69.5,140.2 71.7,141.5C73.9,142.7 75.4,144.0 77.3,145.2C79.2,146.5 81.7,147.4 82.9,149.0C84.2,150.5 84.8,152.7 84.8,154.6C84.8,156.5 82.6,158.0 82.9,160.2C83.2,162.4 84.8,165.2 86.7,167.7C88.6,170.2 91.7,173.4 94.2,175.2C96.7,177.1 99.2,177.7 101.7,179.0C104.2,180.2 107.0,181.2 109.2,182.7C111.4,184.3 113.6,185.4 114.8,188.4C116.1,191.4 136.1,198.7 116.7,200.8C97.2,202.8 17.9,218.6 -1.9,200.8C-21.6,182.9 -5.3,111.8 -1.9,93.8Z" fill="#ffffbf"/><path d="M209.0,131.3C199.4,132.2 204.3,135.2 201.5,136.6C198.7,138.0 196.2,138.8 192.1,139.6C188.1,140.4 181.2,140.4 177.1,141.5C173.0,142.5 169.3,144.4 167.4,146.0C165.4,147.5 165.5,149.1 165.5,150.8C165.5,152.6 168.9,155.2 167.4,156.5C165.8,157.7 159.5,158.0 156.1,158.3C152.7,158.7 150.2,158.2 146.7,158.3C143.3,158.5 137.5,158.8 135.5,159.5C133.5,160.1 132.8,161.2 134.7,162.1C136.6,163.0 143.8,163.9 146.7,165.1C149.7,166.4 149.2,168.2 152.3,169.6C155.5,171.0 160.1,172.2 165.5,173.4C170.9,174.5 178.3,175.7 184.6,176.4C190.9,177.0 198.1,176.7 203.4,177.1C208.7,177.5 212.8,178.0 216.5,179.0C220.3,179.9 222.8,181.5 225.9,182.7C229.0,184.0 229.8,185.7 235.3,186.5C240.8,187.3 255.0,196.8 258.9,187.6C262.9,178.4 267.2,140.7 258.9,131.3C250.6,122.0 218.6,130.5 209.0,131.3Z" fill="#ffffbf"/><path d="M146.7,200.8C131.1,199.6 159.2,195.4 165.5,194.0C171.8,192.6 178.3,192.6 184.6,192.1C190.9,191.7 197.1,191.7 203.4,191.4C209.6,191.1 215.9,190.7 222.1,190.2C228.4,189.7 234.8,189.1 240.9,188.4C247.0,187.6 255.9,183.7 258.9,185.7C261.9,187.8 277.6,198.2 258.9,200.8C240.2,203.3 162.3,201.9 146.7,200.8Z" fill="#ffffbf"/><path d="M90.4,135.8C92.0,133.1 96.7,132.5 99.8,132.8C102.9,133.1 107.0,135.0 109.2,137.7C111.4,140.4 111.7,144.9 112.9,149.0C114.2,153.0 115.4,157.7 116.7,162.1C117.9,166.5 119.2,171.2 120.5,175.2C121.7,179.3 124.2,183.4 124.2,186.5C124.2,189.6 122.3,193.7 120.5,194.0C118.6,194.3 115.4,191.5 112.9,188.4C110.4,185.2 108.3,179.6 105.4,175.2C102.6,170.9 98.6,166.5 96.1,162.1C93.6,157.7 91.4,153.3 90.4,149.0C89.5,144.6 88.9,138.5 90.4,135.8Z" fill="#cdeaf3"/><path d="M11.3,107.7C12.1,106.4 15.6,106.1 16.9,106.9C18.1,107.8 18.8,110.9 18.8,112.6C18.8,114.3 18.0,116.8 16.9,117.1C15.8,117.4 12.9,116.0 12.0,114.4C11.1,112.9 10.4,108.9 11.3,107.7Z" fill="#fee99d"/>
<use href="#land"/>
</g></g>
<rect x="39.35" y="284.65" width="257.30" height="198.90" fill="none" stroke="#262626" stroke-width="2.7"/>
<path d="M39.35,437.65h3.7M296.65,437.65h-3.7M39.35,391.75h3.7M296.65,391.75h-3.7M39.35,345.85h3.7M296.65,345.85h-3.7M39.35,299.95h3.7M296.65,299.95h-3.7M125.12,284.65v3.7M125.12,483.55v-3.7M210.88,284.65v3.7M210.88,483.55v-3.7" stroke="#262626" stroke-width="2.3" fill="none"/>
<text class="tl" x="32.70" y="303.45" font-size="15.2" text-anchor="end">60°N</text>
<text class="tl" x="32.70" y="349.35" font-size="15.2" text-anchor="end">45°N</text>
<text class="tl" x="32.70" y="395.25" font-size="15.2" text-anchor="end">30°N</text>
<text class="tl" x="32.70" y="441.15" font-size="15.2" text-anchor="end">15°N</text>
<text class="tl" x="32.70" y="487.05" font-size="15.2" text-anchor="end">0°S</text>
<g transform="translate(39.35,525.55) scale(1,1.0040)">
<g clip-path="url(#pc)">
<rect x="-5" y="-5" width="270" height="210" fill="#e0f3f8"/><path d="M-1.9,-1.9C41.6,-11.6 215.4,-21.0 258.9,-1.9C302.4,17.2 263.3,93.5 258.9,112.6C254.5,131.6 238.3,110.7 232.6,112.6C227.0,114.4 228.9,120.6 225.1,123.8C221.4,127.1 213.9,130.1 210.1,132.1C206.4,134.1 206.4,134.3 202.6,135.8C198.9,137.4 193.8,139.6 187.6,141.5C181.4,143.3 171.7,145.8 165.5,147.1C159.2,148.3 155.2,149.0 150.1,149.0C145.0,149.0 138.8,148.3 135.1,147.1C131.4,145.8 129.8,144.6 128.0,141.5C126.1,138.3 125.1,132.1 123.8,128.3C122.5,124.6 122.6,121.5 120.1,118.9C117.6,116.4 113.2,114.9 108.8,113.3C104.4,111.8 99.4,110.8 93.8,109.6C88.2,108.3 81.3,107.4 75.0,105.8C68.8,104.3 62.5,102.4 56.3,100.2C50.0,98.0 43.2,96.9 37.5,92.7C31.9,88.5 29.1,81.1 22.5,75.0C15.9,69.0 2.2,69.1 -1.9,56.3C-5.9,43.5 -45.3,7.8 -1.9,-1.9Z" fill="#cdeaf3"/><path d="M-1.9,-1.9C41.6,-10.3 215.4,-20.0 258.9,-1.9C302.4,16.3 263.3,88.5 258.9,106.9C254.5,125.4 239.5,106.0 232.6,108.8C225.8,111.6 221.6,120.2 217.6,123.8C213.7,127.5 212.8,129.0 209.0,130.6C205.3,132.2 200.6,132.7 195.1,133.6C189.7,134.5 182.6,135.5 176.4,135.8C170.1,136.2 163.2,136.6 157.6,135.8C152.0,135.1 147.0,133.8 142.6,131.3C138.2,128.8 134.5,124.5 131.3,120.8C128.2,117.2 127.0,112.4 123.8,109.6C120.7,106.8 117.6,105.5 112.6,103.9C107.6,102.4 100.1,101.4 93.8,100.2C87.6,98.9 81.3,97.7 75.0,96.4C68.8,95.2 61.9,93.9 56.3,92.7C50.7,91.4 46.9,92.5 41.3,88.9C35.6,85.4 29.7,78.0 22.5,71.3C15.3,64.6 2.2,61.0 -1.9,48.8C-5.9,36.6 -45.3,6.6 -1.9,-1.9Z" fill="#b9e0ed"/><path d="M-1.9,-1.9C41.6,-9.4 215.4,-18.1 258.9,-1.9C302.4,14.4 262.0,78.8 258.9,95.7C255.8,112.6 245.2,96.6 240.2,99.4C235.1,102.3 232.6,108.8 228.9,112.6C225.1,116.3 221.0,119.8 217.6,122.0C214.3,124.1 213.4,124.8 209.0,125.7C204.6,126.6 197.4,127.4 191.4,127.6C185.3,127.8 178.2,128.0 172.6,126.8C167.0,125.7 162.0,123.7 157.6,120.8C153.2,117.9 150.1,112.7 146.3,109.6C142.6,106.4 139.5,104.2 135.1,102.1C130.7,99.9 125.7,98.3 120.1,96.8C114.4,95.3 107.6,94.2 101.3,93.1C95.1,91.9 88.8,91.1 82.6,90.1C76.3,89.1 70.0,87.8 63.8,87.1C57.5,86.3 51.9,89.4 45.0,85.6C38.1,81.7 30.3,70.9 22.5,63.8C14.7,56.7 2.2,54.1 -1.9,43.2C-5.9,32.2 -45.3,5.6 -1.9,-1.9Z" fill="#a6d5e7"/><path d="M-1.9,-1.9C11.0,-9.4 62.5,-4.7 75.4,-1.9C88.3,0.9 78.5,11.6 75.4,15.0C72.3,18.4 63.0,14.1 56.7,18.8C50.3,23.5 47.3,39.1 37.5,43.2C27.8,47.2 4.7,50.7 -1.9,43.2C-8.4,35.6 -14.8,5.6 -1.9,-1.9Z" fill="#92c5de"/><path d="M65.7,-1.9C96.3,-4.1 226.7,-10.9 258.9,-1.9C291.1,7.2 262.0,42.8 258.9,52.5C255.8,62.2 245.8,55.0 240.2,56.3C234.5,57.5 228.6,56.9 225.1,60.0C221.7,63.2 219.8,70.0 219.5,75.0C219.2,80.1 221.6,85.1 223.3,90.1C225.0,95.1 228.1,100.7 229.6,105.1C231.2,109.4 234.6,113.5 232.6,116.3C230.6,119.1 223.3,120.7 217.6,122.0C212.0,123.2 205.1,123.8 198.9,123.8C192.6,123.9 185.7,124.2 180.1,122.3C174.5,120.5 169.5,115.8 165.1,112.6C160.7,109.4 158.2,105.7 153.8,103.2C149.5,100.7 143.8,99.0 138.8,97.6C133.8,96.1 128.8,95.7 123.8,94.6C118.8,93.4 113.5,92.5 108.8,90.8C104.1,89.1 99.4,86.7 95.7,84.4C91.9,82.1 88.8,79.7 86.3,76.9C83.8,74.1 80.7,71.0 80.7,67.5C80.7,64.1 84.7,60.7 86.3,56.3C87.9,51.9 90.4,46.3 90.1,41.3C89.7,36.3 86.9,31.3 84.4,26.3C81.9,21.3 78.2,15.9 75.0,11.3C71.9,6.6 35.0,0.3 65.7,-1.9Z" fill="#92c5de"/><path d="M70.5,-1.9C78.7,-4.4 117.8,-4.7 127.6,-1.9C137.4,0.9 127.6,10.9 129.5,15.0C131.3,19.1 136.0,20.6 138.8,22.5C141.7,24.4 142.3,25.1 146.7,26.3C151.2,27.4 159.2,28.3 165.5,29.3C171.8,30.2 177.7,31.1 184.6,31.9C191.6,32.6 202.9,31.6 207.1,33.8C211.4,36.0 210.4,41.3 210.1,45.0C209.9,48.8 206.9,51.9 205.6,56.3C204.4,60.7 202.5,66.0 202.6,71.3C202.8,76.6 204.4,82.9 206.4,88.2C208.4,93.5 212.1,98.8 214.6,103.2C217.1,107.6 222.1,111.8 221.4,114.4C220.6,117.1 215.1,118.5 210.1,119.3C205.1,120.1 197.0,120.5 191.4,119.3C185.7,118.2 180.1,115.4 176.4,112.6C172.6,109.7 172.0,105.2 168.9,102.1C165.7,98.9 162.0,95.8 157.6,93.8C153.2,91.8 147.5,90.9 142.6,90.1C137.6,89.2 132.3,89.5 128.0,88.6C123.6,87.6 119.8,86.4 116.3,84.4C112.8,82.5 109.6,80.1 106.9,76.9C104.3,73.8 102.4,69.7 100.6,65.7C98.7,61.6 97.2,56.9 95.7,52.5C94.1,48.2 92.9,43.8 91.2,39.4C89.5,35.0 87.6,30.6 85.6,26.3C83.5,21.9 81.3,17.8 78.8,13.1C76.3,8.4 62.4,0.6 70.5,-1.9Z" fill="#7eb5d5"/><path d="M71.3,-1.9C41.0,-0.3 74.9,4.4 76.9,7.5C78.9,10.6 81.4,13.8 83.3,16.9C85.2,20.0 86.8,23.0 88.6,26.3C90.3,29.6 92.2,33.3 93.8,36.8C95.4,40.2 96.8,43.5 98.3,46.9C99.8,50.3 101.2,53.7 102.8,57.0C104.4,60.4 106.1,63.8 108.1,66.8C110.0,69.8 112.1,72.9 114.4,75.0C116.8,77.2 119.7,78.4 122.0,79.5C124.2,80.7 124.5,81.6 128.0,81.8C131.4,82.1 137.6,82.2 142.6,81.1C147.5,79.9 153.8,78.2 157.6,75.0C161.4,71.9 164.2,66.6 165.5,61.9C166.8,57.2 167.4,50.7 165.5,46.9C163.5,43.2 157.7,41.3 153.8,39.4C150.0,37.5 145.7,37.2 142.6,35.6C139.5,34.1 136.3,32.1 135.1,30.0C133.8,28.0 133.8,25.0 135.1,23.3C136.3,21.5 138.8,20.8 142.6,19.5C146.3,18.3 151.3,16.8 157.6,15.8C163.9,14.8 172.5,13.8 180.1,13.5C187.7,13.3 195.9,13.9 203.4,14.3C210.9,14.6 218.4,15.3 225.1,15.8C231.9,16.2 238.3,16.5 243.9,16.9C249.5,17.3 256.4,21.1 258.9,18.0C261.4,14.9 290.2,1.4 258.9,-1.9C227.6,-5.2 101.6,-3.4 71.3,-1.9Z" fill="#6ba3cc"/><path d="M37.5,88.6C36.3,87.0 38.1,78.2 41.3,75.0C44.4,71.9 52.2,70.5 56.3,69.4C60.4,68.3 62.9,68.0 66.0,68.3C69.2,68.6 75.4,69.9 75.0,71.3C74.7,72.7 68.2,74.7 63.8,76.9C59.4,79.1 53.2,82.5 48.8,84.4C44.4,86.4 38.8,90.1 37.5,88.6Z" fill="#6ba3cc"/><path d="M71.3,52.5C73.8,49.7 80.7,50.7 86.3,50.7C91.9,50.7 101.9,49.7 105.1,52.5C108.2,55.3 108.2,64.4 105.1,67.5C101.9,70.7 91.9,71.3 86.3,71.3C80.7,71.3 73.8,70.7 71.3,67.5C68.8,64.4 68.8,55.3 71.3,52.5Z" fill="#6ba3cc"/><path d="M72.0,-1.9C41.9,-0.3 76.0,4.4 78.0,7.5C80.1,10.6 82.4,13.8 84.4,16.9C86.4,20.0 88.2,23.1 90.1,26.3C91.9,29.4 93.7,32.5 95.3,35.6C96.9,38.8 98.3,41.9 99.8,45.0C101.3,48.2 102.8,51.4 104.3,54.4C105.8,57.4 107.1,60.5 108.8,63.0C110.5,65.5 112.3,67.7 114.4,69.4C116.6,71.1 119.7,72.2 122.0,73.2C124.2,74.1 125.1,75.0 128.0,75.0C130.8,75.0 135.1,74.3 138.8,73.2C142.5,72.0 147.6,70.8 150.1,68.3C152.6,65.8 153.8,61.4 153.8,58.2C153.8,54.9 152.3,51.3 150.1,48.8C147.9,46.3 143.5,45.0 140.7,43.2C137.9,41.3 134.8,40.0 133.2,37.5C131.6,35.0 130.7,30.8 131.3,28.1C132.0,25.5 133.8,23.6 137.0,21.8C140.1,19.9 145.3,18.1 150.1,16.9C154.8,15.6 159.7,14.9 165.5,14.3C171.2,13.6 178.3,12.9 184.6,12.8C190.9,12.6 197.1,13.1 203.4,13.5C209.6,13.9 216.0,14.5 222.1,15.0C228.3,15.5 234.0,16.1 240.2,16.5C246.3,16.9 255.8,20.3 258.9,17.3C262.0,14.2 290.1,1.3 258.9,-1.9C227.8,-5.1 102.2,-3.4 72.0,-1.9Z" fill="#5a8ec1"/><path d="M72.8,-1.9C42.8,-0.3 76.7,4.6 78.8,7.5C80.9,10.4 83.5,12.9 85.6,15.8C87.6,18.6 89.4,21.4 91.2,24.4C93.0,27.4 94.7,30.6 96.4,33.8C98.1,36.9 99.7,40.0 101.3,43.2C102.9,46.3 104.4,49.7 105.8,52.5C107.3,55.3 108.2,58.2 109.9,60.0C111.7,61.9 114.0,62.8 116.3,63.8C118.6,64.8 121.6,65.5 123.8,66.0C126.0,66.5 127.1,67.0 129.5,66.8C131.8,66.5 136.1,66.3 138.1,64.5C140.0,62.8 140.8,59.0 141.1,56.3C141.3,53.5 140.6,50.5 139.6,48.0C138.6,45.5 135.7,44.3 135.1,41.3C134.5,38.3 134.6,32.8 135.8,30.0C137.1,27.2 139.6,26.1 142.6,24.4C145.6,22.6 150.0,21.1 153.8,19.5C157.7,17.9 161.0,16.0 165.5,15.0C170.0,14.0 174.5,13.6 180.9,13.5C187.2,13.4 196.5,13.9 203.4,14.3C210.3,14.6 217.1,15.3 222.1,15.8C227.1,16.3 230.3,16.8 233.4,17.3C236.5,17.8 236.6,18.5 240.9,18.8C245.2,19.0 255.9,22.2 258.9,18.8C261.9,15.3 289.9,1.6 258.9,-1.9C227.9,-5.3 102.8,-3.4 72.8,-1.9Z" fill="#497ab7"/><path d="M73.5,-1.9C43.7,-0.3 77.4,4.7 79.5,7.5C81.7,10.3 84.2,12.5 86.3,15.0C88.4,17.5 90.1,19.7 91.9,22.5C93.8,25.3 95.9,28.8 97.6,31.9C99.2,35.0 100.5,38.1 102.1,41.3C103.6,44.4 105.5,48.2 106.9,50.7C108.4,53.2 109.1,55.0 110.7,56.3C112.3,57.5 114.1,57.5 116.3,58.2C118.5,58.8 121.6,59.6 123.8,60.0C126.0,60.5 127.5,60.8 129.5,60.8C131.5,60.8 134.5,61.3 135.8,60.0C137.2,58.8 137.8,55.5 137.7,53.3C137.6,51.1 136.5,48.3 135.1,46.9C133.6,45.5 130.1,46.6 129.1,45.0C128.1,43.5 129.1,41.0 129.1,37.5C129.1,34.1 127.4,27.2 129.1,24.4C130.8,21.6 135.6,22.2 139.2,20.6C142.8,19.1 146.1,16.6 150.5,15.0C154.8,13.4 160.4,12.2 165.5,11.3C170.5,10.3 174.5,9.5 180.9,9.4C187.2,9.3 196.5,10.0 203.4,10.5C210.3,11.0 217.1,11.8 222.1,12.4C227.1,13.0 230.3,13.5 233.4,14.3C236.5,15.0 236.6,16.4 240.9,16.9C245.2,17.3 255.9,20.0 258.9,16.9C261.9,13.8 289.8,1.3 258.9,-1.9C228.0,-5.0 103.4,-3.4 73.5,-1.9Z" fill="#4064ac"/><path d="M75.0,-1.9C45.3,-0.6 78.7,3.1 80.7,5.6C82.7,8.1 84.9,10.6 87.1,13.1C89.2,15.6 91.9,18.4 93.8,20.6C95.7,22.8 96.4,25.6 98.3,26.3C100.3,26.9 103.0,25.3 105.4,24.4C107.9,23.5 110.1,21.6 112.9,20.6C115.8,19.7 119.6,18.9 122.3,18.8C125.0,18.6 126.3,19.6 129.1,19.5C131.9,19.4 135.6,19.2 139.2,18.0C142.8,16.8 146.1,14.0 150.5,12.4C154.8,10.8 160.4,9.2 165.5,8.3C170.5,7.3 174.5,6.8 180.9,6.8C187.2,6.8 196.5,7.7 203.4,8.3C210.3,8.8 217.1,9.5 222.1,10.1C227.1,10.8 230.3,11.3 233.4,12.0C236.5,12.7 236.6,13.9 240.9,14.3C245.2,14.6 255.9,16.9 258.9,14.3C261.9,11.6 289.6,0.8 258.9,-1.9C228.3,-4.6 104.8,-3.1 75.0,-1.9Z" fill="#384da0"/><path d="M64.2,74.3C64.5,73.1 69.2,69.7 71.7,69.0C74.2,68.4 78.2,69.7 79.2,70.5C80.1,71.4 78.9,73.4 77.3,74.3C75.7,75.2 72.0,76.2 69.8,76.2C67.6,76.2 63.9,75.5 64.2,74.3Z" fill="#4064ac"/><path d="M-1.9,105.1C0.3,89.1 7.2,105.4 11.3,105.1C15.3,104.8 19.4,104.8 22.5,103.2C25.6,101.6 26.9,97.2 30.0,95.7C33.1,94.1 37.5,93.4 41.3,93.8C45.0,94.2 51.3,96.4 52.5,98.3C53.8,100.2 51.3,103.3 48.8,105.1C46.3,106.8 40.0,107.3 37.5,108.8C35.0,110.4 32.5,113.1 33.8,114.4C35.0,115.8 37.5,116.3 45.0,116.7C52.6,117.1 73.2,114.8 79.2,116.7C85.2,118.6 81.4,124.5 81.1,128.0C80.7,131.5 77.3,134.8 77.3,137.7C77.3,140.6 80.1,142.1 81.1,145.2C82.0,148.3 82.0,153.3 82.9,156.5C83.9,159.6 85.1,161.8 86.7,164.0C88.2,166.2 90.1,167.7 92.3,169.6C94.5,171.5 97.6,173.4 99.8,175.2C102.0,177.1 103.6,179.0 105.4,180.9C107.3,182.7 109.5,184.6 111.1,186.5C112.6,188.4 113.9,189.7 114.8,192.1C115.8,194.5 136.1,199.3 116.7,200.8C97.2,202.2 17.9,216.7 -1.9,200.8C-21.6,184.8 -4.1,121.0 -1.9,105.1Z" fill="#ffffbf"/><path d="M31.9,105.1C32.5,103.3 38.1,103.3 41.3,103.6C44.4,103.9 49.4,105.4 50.7,106.9C51.9,108.4 51.0,111.3 48.8,112.6C46.6,113.8 40.3,115.7 37.5,114.4C34.7,113.2 31.3,106.9 31.9,105.1Z" fill="#e0f3f8"/><path d="M209.0,131.3C199.1,132.4 203.1,135.7 199.6,137.7C196.2,139.7 192.1,141.8 188.4,143.3C184.6,144.9 179.0,145.8 177.1,147.1C175.2,148.3 179.0,149.3 177.1,150.8C175.2,152.4 169.0,154.9 165.5,156.5C162.0,158.0 159.2,159.3 156.1,160.2C153.0,161.2 148.4,161.3 146.7,162.1C145.0,162.9 145.0,163.5 146.0,165.1C146.9,166.7 149.1,169.8 152.3,171.5C155.6,173.2 160.1,174.0 165.5,175.2C170.9,176.5 178.3,178.0 184.6,179.0C190.9,179.9 197.7,180.2 203.4,180.9C209.0,181.5 214.0,181.8 218.4,182.7C222.8,183.7 226.5,185.6 229.6,186.5C232.8,187.4 232.3,187.7 237.1,188.4C242.0,189.0 255.3,199.7 258.9,190.2C262.5,180.7 267.2,141.2 258.9,131.3C250.6,121.5 218.9,130.3 209.0,131.3Z" fill="#ffffbf"/><path d="M109.2,147.1C110.1,145.7 113.8,144.9 116.3,145.2C118.8,145.5 123.3,147.5 124.2,149.0C125.1,150.4 124.2,153.0 122.0,153.8C119.7,154.7 112.8,155.0 110.7,153.8C108.6,152.7 108.3,148.5 109.2,147.1Z" fill="#ffffbf"/><path d="M210.9,200.8C205.3,199.5 217.1,194.9 225.1,193.2C233.1,191.6 253.3,189.4 258.9,190.6C264.5,191.9 266.9,199.1 258.9,200.8C250.9,202.4 216.5,202.0 210.9,200.8Z" fill="#ffffbf"/><path d="M54.8,147.1C56.7,145.0 63.5,143.8 67.5,143.3C71.6,142.9 76.9,142.7 79.2,144.5C81.4,146.2 81.4,150.9 81.1,153.8C80.7,156.8 80.2,161.0 77.3,162.1C74.4,163.2 67.3,161.7 63.8,160.6C60.3,159.5 57.8,158.0 56.3,155.7C54.8,153.5 52.9,149.2 54.8,147.1Z" fill="#fee99d"/><path d="M9.4,107.3C10.4,105.6 15.2,105.3 16.9,106.2C18.6,107.1 19.5,110.4 19.5,112.6C19.5,114.8 18.4,118.7 16.9,119.3C15.4,119.9 11.8,118.3 10.5,116.3C9.3,114.3 8.3,109.0 9.4,107.3Z" fill="#fee99d"/><path d="M-1.9,157.6C-0.8,156.3 3.3,158.1 4.5,159.5C5.8,160.9 6.7,164.6 5.6,165.9C4.6,167.1 -0.6,168.4 -1.9,167.0C-3.1,165.6 -2.9,158.8 -1.9,157.6Z" fill="#fee99d"/><path d="M203.0,152.7C204.3,151.2 208.6,148.0 210.1,150.1C211.6,152.2 212.6,162.3 212.0,165.1C211.4,167.9 207.9,167.9 206.4,167.0C204.8,166.0 203.2,161.9 202.6,159.5C202.1,157.1 201.8,154.3 203.0,152.7Z" fill="#fee99d"/><path d="M108.1,174.9C108.7,173.6 111.1,172.4 112.6,172.6C114.1,172.9 116.8,175.0 117.1,176.4C117.4,177.7 115.8,180.2 114.4,180.9C113.1,181.5 109.9,181.1 108.8,180.1C107.8,179.1 107.4,176.1 108.1,174.9Z" fill="#92c5de"/>
<use href="#land"/>
</g></g>
<rect x="39.35" y="525.55" width="257.30" height="199.90" fill="none" stroke="#262626" stroke-width="2.7"/>
<path d="M39.35,679.32h3.7M296.65,679.32h-3.7M39.35,633.19h3.7M296.65,633.19h-3.7M39.35,587.06h3.7M296.65,587.06h-3.7M39.35,540.93h3.7M296.65,540.93h-3.7M125.12,525.55v3.7M125.12,725.45v-3.7M210.88,525.55v3.7M210.88,725.45v-3.7" stroke="#262626" stroke-width="2.3" fill="none"/>
<text class="tl" x="32.70" y="544.43" font-size="15.2" text-anchor="end">60°N</text>
<text class="tl" x="32.70" y="590.56" font-size="15.2" text-anchor="end">45°N</text>
<text class="tl" x="32.70" y="636.69" font-size="15.2" text-anchor="end">30°N</text>
<text class="tl" x="32.70" y="682.82" font-size="15.2" text-anchor="end">15°N</text>
<text class="tl" x="32.70" y="728.95" font-size="15.2" text-anchor="end">0°S</text>
<g transform="translate(39.35,767.75) scale(1,0.9995)">
<g clip-path="url(#pc)">
<rect x="-5" y="-5" width="270" height="210" fill="#e0f3f8"/><path d="M-1.9,-1.9C41.6,-11.9 215.4,-22.2 258.9,-1.9C302.4,18.4 262.7,99.4 258.9,120.1C255.2,140.7 242.0,120.1 236.4,122.0C230.8,123.8 229.2,128.0 225.1,131.3C221.1,134.6 216.4,139.2 212.0,141.8C207.6,144.5 204.2,145.7 198.9,147.1C193.6,148.5 186.4,149.6 180.1,150.1C173.9,150.6 167.0,150.4 161.4,150.1C155.7,149.8 150.7,149.5 146.3,148.2C142.0,147.0 138.2,145.1 135.1,142.6C132.0,140.1 130.7,136.3 127.6,133.2C124.5,130.1 120.7,126.1 116.3,123.8C111.9,121.5 106.9,120.7 101.3,119.3C95.7,117.9 88.8,117.0 82.6,115.6C76.3,114.1 70.0,112.8 63.8,110.7C57.5,108.6 50.0,105.7 45.0,103.2C40.0,100.7 37.8,100.1 33.8,95.7C29.7,91.3 26.6,83.2 20.6,76.9C14.7,70.7 1.9,71.3 -1.9,58.2C-5.6,45.0 -45.3,8.1 -1.9,-1.9Z" fill="#cdeaf3"/><path d="M-1.9,-1.9C41.6,-10.6 215.4,-21.0 258.9,-1.9C302.4,17.2 263.0,92.9 258.9,112.6C254.8,132.3 240.8,113.5 234.5,116.3C228.3,119.1 225.5,125.7 221.4,129.5C217.3,133.2 214.5,136.6 210.1,138.8C205.8,141.0 200.8,141.7 195.1,142.6C189.5,143.5 182.6,144.5 176.4,144.5C170.1,144.5 163.2,143.8 157.6,142.6C152.0,141.3 147.0,139.5 142.6,137.0C138.2,134.5 135.1,130.7 131.3,127.6C127.6,124.5 124.5,120.7 120.1,118.2C115.7,115.7 110.7,114.1 105.1,112.6C99.4,111.0 92.6,110.2 86.3,108.8C80.1,107.4 73.8,106.1 67.5,104.3C61.3,102.6 53.8,100.4 48.8,98.3C43.8,96.2 41.9,96.1 37.5,91.9C33.1,87.7 29.1,80.1 22.5,73.2C15.9,66.3 2.2,63.2 -1.9,50.7C-5.9,38.1 -45.3,6.9 -1.9,-1.9Z" fill="#b9e0ed"/><path d="M-1.9,-1.9C41.6,-9.7 215.4,-19.1 258.9,-1.9C302.4,15.3 262.0,83.5 258.9,101.3C255.8,119.1 244.8,101.9 240.2,105.1C235.5,108.2 233.9,115.7 230.8,120.1C227.6,124.5 225.0,128.7 221.4,131.3C217.8,134.0 214.0,134.6 209.0,135.8C204.0,137.1 197.4,138.6 191.4,138.8C185.3,139.0 178.2,138.5 172.6,137.0C167.0,135.4 162.3,132.3 157.6,129.5C152.9,126.6 148.8,122.9 144.5,120.1C140.1,117.3 136.0,114.8 131.3,112.6C126.6,110.4 121.3,108.7 116.3,106.9C111.3,105.2 106.9,103.5 101.3,102.1C95.7,100.6 88.8,99.7 82.6,98.3C76.3,96.9 69.7,95.2 63.8,93.8C57.8,92.4 53.8,94.4 46.9,90.1C40.0,85.7 30.6,75.0 22.5,67.5C14.4,60.0 2.2,56.6 -1.9,45.0C-5.9,33.5 -45.3,5.9 -1.9,-1.9Z" fill="#a6d5e7"/><path d="M-1.9,-1.9C11.0,-9.4 62.5,-4.7 75.4,-1.9C88.3,0.9 78.5,11.6 75.4,15.0C72.3,18.4 63.0,14.1 56.7,18.8C50.3,23.5 47.3,39.1 37.5,43.2C27.8,47.2 4.7,50.7 -1.9,43.2C-8.4,35.6 -14.8,5.6 -1.9,-1.9Z" fill="#92c5de"/><path d="M69.4,-1.9C99.7,-4.1 227.3,-6.9 258.9,-1.9C290.5,3.1 262.0,23.0 258.9,28.1C255.8,33.3 245.8,29.0 240.2,29.3C234.5,29.6 229.5,29.0 225.1,30.0C220.8,31.1 216.1,31.9 213.9,35.6C211.7,39.4 211.4,47.2 212.0,52.5C212.6,57.8 215.8,62.9 217.6,67.5C219.5,72.2 221.7,76.3 223.3,80.7C224.8,85.1 225.5,89.1 227.0,93.8C228.6,98.5 231.4,104.4 232.6,108.8C233.9,113.2 236.4,116.6 234.5,120.1C232.6,123.5 226.7,127.0 221.4,129.5C216.1,132.0 208.9,134.1 202.6,135.1C196.4,136.0 189.5,136.3 183.9,135.1C178.2,133.8 173.5,130.7 168.9,127.6C164.2,124.5 160.1,119.4 155.7,116.3C151.3,113.2 147.3,110.7 142.6,108.8C137.9,106.9 132.6,106.6 127.6,105.1C122.6,103.5 117.3,101.6 112.6,99.4C107.9,97.2 103.2,94.7 99.4,91.9C95.7,89.1 92.6,86.0 90.1,82.6C87.6,79.1 84.7,75.7 84.4,71.3C84.1,66.9 87.2,61.3 88.2,56.3C89.1,51.3 90.7,46.3 90.1,41.3C89.4,36.3 86.6,31.3 84.4,26.3C82.2,21.3 79.4,15.9 76.9,11.3C74.4,6.6 39.1,0.3 69.4,-1.9Z" fill="#92c5de"/><path d="M71.3,-1.9C79.7,-4.4 117.9,-4.7 127.6,-1.9C137.3,0.9 127.6,11.3 129.5,15.0C131.3,18.8 135.4,19.3 138.8,20.6C142.3,22.0 145.7,22.5 150.1,23.3C154.5,24.1 159.7,24.7 165.5,25.5C171.2,26.3 177.7,27.3 184.6,28.1C191.6,29.0 202.3,29.2 207.1,30.8C212.0,32.3 213.7,33.9 213.9,37.5C214.1,41.2 209.4,46.3 208.3,52.5C207.1,58.8 206.5,68.8 207.1,75.0C207.8,81.3 209.6,85.7 212.0,90.1C214.4,94.4 219.1,97.6 221.4,101.3C223.7,105.1 225.9,108.8 225.9,112.6C225.9,116.3 224.0,121.0 221.4,123.8C218.8,126.6 215.1,128.5 210.1,129.5C205.1,130.4 197.0,130.7 191.4,129.5C185.7,128.2 180.4,124.8 176.4,122.0C172.3,119.1 170.1,115.7 167.0,112.6C163.9,109.4 161.7,105.6 157.6,103.2C153.5,100.8 147.5,99.6 142.6,98.3C137.6,97.1 132.6,96.9 128.0,95.7C123.3,94.4 118.3,92.9 114.4,90.8C110.6,88.7 107.8,86.6 105.1,83.3C102.4,80.1 100.2,75.8 98.3,71.3C96.4,66.8 95.3,61.3 93.8,56.3C92.3,51.3 91.1,46.3 89.3,41.3C87.6,36.3 85.4,31.0 83.3,26.3C81.2,21.6 78.9,17.8 76.9,13.1C74.9,8.4 62.9,0.6 71.3,-1.9Z" fill="#7eb5d5"/><path d="M165.5,105.1C167.7,103.2 173.9,102.2 180.1,101.3C186.3,100.4 195.7,99.5 202.6,99.8C209.5,100.1 217.5,101.1 221.4,103.2C225.3,105.3 225.9,109.1 225.9,112.6C225.9,116.0 224.0,121.0 221.4,123.8C218.8,126.6 215.1,128.5 210.1,129.5C205.1,130.4 197.0,130.7 191.4,129.5C185.7,128.2 180.4,124.8 176.4,122.0C172.3,119.1 168.8,115.4 167.0,112.6C165.2,109.8 163.3,106.9 165.5,105.1Z" fill="#6ba3cc"/><path d="M72.0,-1.9C41.8,-0.3 75.7,4.4 77.7,7.5C79.7,10.6 82.0,13.4 84.1,16.9C86.1,20.3 88.3,24.4 90.1,28.1C91.8,31.9 93.0,35.6 94.6,39.4C96.1,43.2 97.7,46.6 99.4,50.7C101.2,54.7 102.9,59.8 105.1,63.8C107.3,67.7 109.8,71.5 112.6,74.3C115.4,77.1 118.8,79.0 122.0,80.7C125.1,82.4 127.3,84.0 131.3,84.4C135.4,84.9 141.3,84.6 146.3,83.3C151.3,82.1 157.6,79.9 161.4,76.9C165.1,74.0 167.6,70.4 168.9,65.7C170.1,61.0 170.7,53.2 168.9,48.8C167.0,44.4 161.4,41.6 157.6,39.4C153.8,37.2 149.8,37.2 146.3,35.6C142.9,34.1 138.5,32.1 137.0,30.0C135.4,28.0 135.4,25.0 137.0,23.3C138.5,21.5 141.6,20.8 146.3,19.5C151.1,18.3 159.1,16.6 165.5,15.8C171.9,14.9 178.3,14.4 184.6,14.3C190.9,14.1 196.6,14.6 203.4,15.0C210.1,15.4 218.4,16.1 225.1,16.5C231.9,16.9 238.3,17.3 243.9,17.6C249.5,18.0 256.4,22.0 258.9,18.8C261.4,15.5 290.1,1.6 258.9,-1.9C227.8,-5.3 102.3,-3.4 72.0,-1.9Z" fill="#6ba3cc"/><path d="M72.8,-1.9C42.8,-0.3 76.7,4.4 78.8,7.5C80.9,10.6 83.1,13.4 85.2,16.9C87.3,20.3 89.7,24.6 91.6,28.1C93.4,31.7 94.8,34.7 96.4,38.3C98.1,41.8 99.6,45.6 101.3,49.5C103.1,53.5 104.8,58.3 106.9,61.9C109.1,65.5 111.6,68.8 114.4,71.3C117.3,73.8 121.0,75.7 123.8,76.9C126.6,78.2 128.2,78.8 131.3,78.8C134.5,78.8 138.8,78.2 142.6,76.9C146.3,75.7 151.0,74.1 153.8,71.3C156.7,68.5 159.2,64.1 159.8,60.0C160.5,56.0 159.8,50.3 157.6,46.9C155.3,43.5 150.0,41.6 146.3,39.4C142.7,37.2 137.8,36.0 135.8,33.8C133.8,31.6 133.5,28.4 134.3,26.3C135.1,24.1 137.5,22.5 140.7,21.0C144.0,19.5 149.7,18.3 153.8,17.3C158.0,16.3 160.4,15.7 165.5,15.0C170.6,14.3 178.3,13.3 184.6,13.1C190.9,12.9 197.1,13.6 203.4,13.9C209.6,14.2 216.0,14.6 222.1,15.0C228.3,15.4 234.0,16.1 240.2,16.5C246.3,16.9 255.8,20.3 258.9,17.3C262.0,14.2 289.9,1.3 258.9,-1.9C227.9,-5.1 102.8,-3.4 72.8,-1.9Z" fill="#5a8ec1"/><path d="M37.5,88.6C36.1,86.8 37.4,78.2 40.5,75.0C43.7,71.9 52.0,70.9 56.3,69.8C60.5,68.7 62.9,68.4 66.0,68.7C69.2,68.9 75.4,69.7 75.0,71.3C74.7,72.9 68.2,75.7 63.8,78.0C59.4,80.4 53.2,83.8 48.8,85.6C44.4,87.3 38.9,90.3 37.5,88.6Z" fill="#5a8ec1"/><path d="M73.5,-1.9C43.7,-0.3 77.4,4.4 79.5,7.5C81.7,10.6 84.1,13.4 86.3,16.9C88.6,20.3 91.1,24.7 93.1,28.1C95.1,31.6 96.5,34.1 98.3,37.5C100.1,41.0 102.1,45.0 103.9,48.8C105.8,52.5 107.4,56.9 109.6,60.0C111.8,63.2 114.0,65.7 117.1,67.5C120.1,69.4 124.3,70.8 128.0,71.3C131.6,71.8 136.1,72.1 138.8,70.5C141.6,69.0 143.5,65.2 144.5,61.9C145.4,58.6 145.1,54.1 144.5,50.7C143.8,47.2 141.0,44.7 140.7,41.3C140.4,37.8 140.4,33.3 142.6,30.0C144.8,26.8 150.0,24.3 153.8,21.8C157.7,19.3 160.4,16.4 165.5,15.0C170.6,13.6 178.3,13.6 184.6,13.5C190.9,13.4 197.1,13.9 203.4,14.3C209.6,14.6 217.1,15.3 222.1,15.8C227.1,16.3 230.3,16.8 233.4,17.3C236.5,17.8 236.6,18.5 240.9,18.8C245.2,19.0 255.9,22.2 258.9,18.8C261.9,15.3 289.8,1.6 258.9,-1.9C228.0,-5.3 103.4,-3.4 73.5,-1.9Z" fill="#497ab7"/><path d="M74.3,-1.9C44.5,-0.3 78.1,4.4 80.3,7.5C82.5,10.6 85.1,13.4 87.4,16.9C89.8,20.3 92.4,24.7 94.6,28.1C96.7,31.6 98.3,34.2 100.2,37.5C102.1,40.8 103.9,44.6 105.8,48.0C107.7,51.5 109.2,55.4 111.4,58.2C113.7,60.9 116.4,63.1 119.3,64.5C122.3,66.0 126.5,66.9 129.1,66.8C131.7,66.7 133.6,65.5 135.1,63.8C136.6,62.0 138.1,59.1 138.1,56.3C138.1,53.5 136.1,50.0 135.1,46.9C134.1,43.8 132.1,41.0 132.1,37.5C132.1,34.1 133.3,28.9 135.1,26.3C136.8,23.6 139.5,23.5 142.6,21.8C145.7,20.0 150.0,17.4 153.8,15.8C157.7,14.1 160.4,12.8 165.5,12.0C170.6,11.3 178.3,11.3 184.6,11.3C190.9,11.3 197.1,11.6 203.4,12.0C209.6,12.4 217.1,12.9 222.1,13.5C227.1,14.1 230.3,15.0 233.4,15.8C236.5,16.5 236.6,17.6 240.9,18.0C245.2,18.4 255.9,21.3 258.9,18.0C261.9,14.7 289.7,1.4 258.9,-1.9C228.1,-5.2 104.1,-3.4 74.3,-1.9Z" fill="#4064ac"/><path d="M75.0,-1.9C45.4,-0.3 78.8,4.4 81.1,7.5C83.3,10.6 86.1,13.4 88.6,16.9C91.1,20.3 93.9,24.7 96.1,28.1C98.2,31.6 99.8,34.4 101.7,37.5C103.6,40.7 105.4,43.8 107.3,46.9C109.2,50.0 110.8,53.7 112.9,56.3C115.1,58.8 117.8,61.0 120.5,62.3C123.1,63.6 127.6,67.0 129.1,64.2C130.5,61.3 129.3,50.7 129.1,45.0C128.8,39.3 127.6,34.1 127.6,30.0C127.6,26.0 127.1,22.6 129.1,20.6C131.0,18.6 135.6,19.6 139.2,18.0C142.8,16.4 146.1,13.0 150.5,11.3C154.8,9.5 159.8,8.1 165.5,7.5C171.2,6.9 178.3,7.4 184.6,7.5C190.9,7.6 197.1,7.8 203.4,8.3C209.6,8.7 217.1,9.3 222.1,10.1C227.1,10.9 230.3,12.3 233.4,13.1C236.5,13.9 236.6,14.7 240.9,15.0C245.2,15.3 255.9,17.8 258.9,15.0C261.9,12.2 289.6,0.9 258.9,-1.9C228.3,-4.7 104.7,-3.4 75.0,-1.9Z" fill="#384da0"/><path d="M62.3,74.3C62.3,73.2 67.0,70.4 69.8,69.8C72.6,69.2 77.9,69.7 79.2,70.5C80.4,71.4 78.9,73.7 77.3,74.7C75.7,75.6 72.3,76.2 69.8,76.2C67.3,76.1 62.3,75.4 62.3,74.3Z" fill="#384da0"/><path d="M20.6,112.6C21.9,110.5 25.6,110.1 30.0,111.4C34.4,112.8 42.5,118.6 46.9,120.8C51.3,123.0 52.5,124.6 56.7,124.6C60.8,124.6 68.9,120.2 71.7,120.8C74.5,121.5 73.9,125.8 73.5,128.3C73.2,130.8 70.1,133.3 69.8,135.8C69.5,138.3 70.1,141.5 71.7,143.3C73.2,145.2 77.0,144.9 79.2,147.1C81.4,149.3 83.2,153.7 84.8,156.5C86.4,159.3 87.0,161.5 88.6,164.0C90.1,166.5 92.0,169.3 94.2,171.5C96.4,173.7 99.2,174.9 101.7,177.1C104.2,179.3 106.7,182.1 109.2,184.6C111.7,187.1 115.4,189.4 116.7,192.1C117.9,194.8 128.6,199.3 116.7,200.8C104.8,202.2 57.6,206.7 45.0,200.8C32.5,194.8 43.2,172.3 41.3,165.1C39.4,157.9 36.6,160.1 33.8,157.6C31.0,155.1 26.1,152.6 24.4,150.1C22.6,147.6 23.3,145.7 23.3,142.6C23.3,139.5 24.5,134.5 24.4,131.3C24.3,128.2 23.1,127.0 22.5,123.8C21.9,120.7 19.4,114.6 20.6,112.6Z" fill="#ffffbf"/><path d="M209.0,131.3C199.1,132.7 202.4,137.3 199.6,139.6C196.8,141.9 193.7,143.0 192.1,145.2C190.6,147.4 191.5,150.2 190.2,152.7C189.0,155.2 187.1,158.0 184.6,160.2C182.1,162.4 180.0,164.7 175.2,165.9C170.5,167.0 160.5,166.5 156.1,167.0C151.7,167.5 149.8,167.9 148.6,168.9C147.3,169.8 145.8,171.2 148.6,172.6C151.4,174.0 159.5,175.9 165.5,177.1C171.5,178.4 178.3,179.8 184.6,180.1C190.9,180.4 198.1,178.9 203.4,179.0C208.7,179.1 212.4,179.9 216.5,180.9C220.6,181.8 224.3,183.5 227.8,184.6C231.2,185.7 232.0,187.0 237.1,187.6C242.3,188.2 255.3,197.7 258.9,188.4C262.5,179.0 267.2,140.8 258.9,131.3C250.6,121.8 218.9,130.0 209.0,131.3Z" fill="#ffffbf"/><path d="M105.1,148.2C105.4,147.0 111.9,146.0 114.4,146.3C116.9,146.7 120.4,148.8 120.1,150.1C119.8,151.3 115.1,154.2 112.6,153.8C110.1,153.5 104.8,149.5 105.1,148.2Z" fill="#ffffbf"/><path d="M58.5,147.1C60.4,145.2 67.6,143.3 71.3,143.3C75.0,143.3 78.7,145.0 80.7,147.1C82.6,149.2 83.2,153.2 82.9,155.7C82.6,158.2 81.7,161.3 78.8,162.1C75.9,162.9 68.8,161.9 65.7,160.6C62.5,159.3 61.2,156.8 60.0,154.6C58.8,152.3 56.7,149.0 58.5,147.1Z" fill="#fee99d"/><path d="M10.5,107.7C11.4,106.4 15.5,106.1 16.9,106.9C18.3,107.8 18.8,110.9 18.8,112.6C18.8,114.3 18.1,116.8 16.9,117.1C15.6,117.4 12.3,116.0 11.3,114.4C10.2,112.9 9.6,108.9 10.5,107.7Z" fill="#fee99d"/><path d="M200.8,157.6C202.1,155.1 207.1,148.2 209.0,150.1C210.9,152.0 212.4,165.4 212.0,168.9C211.6,172.3 208.3,171.4 206.4,170.7C204.5,170.1 201.7,167.3 200.8,165.1C199.8,162.9 199.4,160.1 200.8,157.6Z" fill="#fee99d"/><path d="M112.9,188.4C113.3,187.0 116.9,186.5 118.2,187.6C119.5,188.7 121.1,193.7 120.8,195.1C120.5,196.5 117.6,197.0 116.3,195.9C115.0,194.7 112.6,189.7 112.9,188.4Z" fill="#fee99d"/><path d="M-1.9,159.5C0.3,152.6 7.2,158.5 11.3,159.5C15.3,160.4 18.8,162.9 22.5,165.1C26.3,167.3 31.3,170.1 33.8,172.6C36.3,175.1 36.9,175.4 37.5,180.1C38.1,184.8 44.1,197.3 37.5,200.8C31.0,204.2 4.7,207.6 -1.9,200.8C-8.4,193.9 -4.1,166.4 -1.9,159.5Z" fill="#fee99d"/><path d="M18.8,175.2C20.0,172.3 27.2,174.9 30.0,176.4C32.8,177.8 34.7,180.9 35.6,183.9C36.6,186.8 37.8,192.3 35.6,194.0C33.5,195.7 25.3,197.1 22.5,194.0C19.7,190.9 17.5,178.2 18.8,175.2Z" fill="#fecb7c"/><path d="M-1.9,162.1C-0.6,160.5 4.4,160.5 5.6,162.1C6.9,163.7 6.9,169.9 5.6,171.5C4.4,173.0 -0.6,173.0 -1.9,171.5C-3.1,169.9 -3.1,163.7 -1.9,162.1Z" fill="#fecb7c"/><path d="M5.6,172.6C6.6,170.2 12.2,170.5 15.0,171.5C17.8,172.4 21.6,175.7 22.5,178.2C23.5,180.7 22.8,185.2 20.6,186.5C18.4,187.7 11.9,188.1 9.4,185.7C6.9,183.4 4.7,175.0 5.6,172.6Z" fill="#ffffbf"/><path d="M111.1,175.2C111.6,174.2 113.4,173.0 114.4,173.4C115.5,173.7 117.4,175.9 117.4,177.1C117.4,178.4 115.5,180.5 114.4,180.9C113.4,181.2 111.6,180.3 111.1,179.4C110.5,178.4 110.5,176.2 111.1,175.2Z" fill="#7eb5d5"/>
<use href="#land"/>
</g></g>
<rect x="39.35" y="767.75" width="257.30" height="199.00" fill="none" stroke="#262626" stroke-width="2.7"/>
<path d="M39.35,920.83h3.7M296.65,920.83h-3.7M39.35,874.90h3.7M296.65,874.90h-3.7M39.35,828.98h3.7M296.65,828.98h-3.7M39.35,783.06h3.7M296.65,783.06h-3.7M125.12,767.75v3.7M125.12,966.75v-3.7M210.88,767.75v3.7M210.88,966.75v-3.7" stroke="#262626" stroke-width="2.3" fill="none"/>
<text class="tl" x="32.70" y="786.56" font-size="15.2" text-anchor="end">60°N</text>
<text class="tl" x="32.70" y="832.48" font-size="15.2" text-anchor="end">45°N</text>
<text class="tl" x="32.70" y="878.40" font-size="15.2" text-anchor="end">30°N</text>
<text class="tl" x="32.70" y="924.33" font-size="15.2" text-anchor="end">15°N</text>
<text class="tl" x="32.70" y="970.25" font-size="15.2" text-anchor="end">0°S</text>
<g transform="translate(406.45,49.05) scale(1,1.0000)">
<g clip-path="url(#pc)">
<rect x="-5" y="-5" width="270" height="210" fill="#e0f3f8"/><path d="M-1.9,-1.9C41.6,-21.0 215.4,-4.7 258.9,-1.9C302.4,0.9 262.0,12.1 258.9,15.0C255.8,17.9 246.3,15.8 240.2,15.8C234.0,15.8 225.8,13.6 222.1,15.0C218.5,16.4 220.9,21.3 218.4,24.4C215.9,27.5 208.1,30.6 207.1,33.8C206.2,36.9 213.4,40.0 212.8,43.2C212.1,46.3 205.6,50.0 203.4,52.9C201.2,55.8 201.8,57.9 199.6,60.4C197.4,62.9 193.4,65.4 190.2,67.9C187.1,70.4 183.4,73.2 180.9,75.4C178.4,77.6 176.9,78.5 175.2,81.1C173.6,83.6 173.4,89.1 171.1,90.4C168.8,91.8 166.1,90.1 161.4,89.3C156.6,88.5 148.2,85.6 142.6,85.6C137.0,85.6 132.6,89.5 127.6,89.3C122.6,89.1 117.6,86.1 112.6,84.4C107.6,82.8 102.6,80.8 97.6,79.5C92.6,78.3 87.6,77.0 82.6,76.9C77.5,76.8 71.9,77.7 67.5,78.8C63.2,79.9 59.7,81.4 56.3,83.3C52.8,85.2 49.7,87.4 46.9,90.1C44.1,92.7 41.3,95.7 39.4,99.4C37.5,103.2 42.5,110.4 35.6,112.6C28.8,114.8 4.4,131.6 -1.9,112.6C-8.1,93.5 -45.3,17.2 -1.9,-1.9Z" fill="#ffffbf"/><path d="M157.6,26.3C160.1,24.5 167.9,23.0 172.6,23.3C177.3,23.6 183.9,25.9 185.7,28.1C187.6,30.4 186.7,35.2 183.9,36.8C181.1,38.3 173.2,38.0 168.9,37.5C164.5,37.0 159.5,35.6 157.6,33.8C155.7,31.9 155.1,28.0 157.6,26.3Z" fill="#e0f3f8"/><path d="M167.0,56.3C168.9,53.5 175.7,52.5 180.1,52.5C184.5,52.5 191.4,53.5 193.2,56.3C195.1,59.1 193.6,66.3 191.4,69.4C189.2,72.5 183.9,75.0 180.1,75.0C176.4,75.0 171.0,72.5 168.9,69.4C166.7,66.3 165.1,59.1 167.0,56.3Z" fill="#e0f3f8"/><path d="M56.3,-1.9C90.1,-13.4 225.1,-4.4 258.9,-1.9C292.7,0.6 262.0,10.4 258.9,13.1C255.8,15.8 245.8,14.2 240.2,14.3C234.5,14.3 230.8,13.5 225.1,13.5C219.5,13.5 212.6,13.9 206.4,14.3C200.1,14.6 193.9,15.0 187.6,15.8C181.4,16.5 173.9,17.0 168.9,18.8C163.9,20.5 161.0,23.1 157.6,26.3C154.2,29.4 150.7,33.1 148.2,37.5C145.7,41.9 144.8,47.8 142.6,52.5C140.4,57.2 138.8,62.7 135.1,65.7C131.3,68.7 125.1,69.5 120.1,70.5C115.1,71.6 110.1,72.0 105.1,72.0C100.1,72.0 95.1,71.0 90.1,70.5C85.1,70.0 80.1,68.8 75.0,69.0C70.0,69.3 64.4,70.3 60.0,72.0C55.7,73.8 51.9,76.5 48.8,79.5C45.7,82.6 43.3,86.1 41.3,90.1C39.2,94.0 37.8,99.6 36.4,103.2C35.0,106.8 34.2,110.4 33.0,111.8C31.8,113.3 29.5,114.2 29.3,111.8C29.1,109.4 30.5,102.1 31.9,97.6C33.3,93.0 35.3,88.2 37.5,84.4C39.7,80.7 41.9,77.9 45.0,75.0C48.2,72.2 54.4,80.4 56.3,67.5C58.2,54.7 22.5,9.7 56.3,-1.9Z" fill="#fff1aa"/><path d="M128.0,37.7C129.9,31.7 136.2,37.7 139.3,39.5C142.4,41.4 145.9,45.2 146.8,49.0C147.8,52.7 146.5,57.8 144.9,62.1C143.4,66.5 140.2,73.1 137.4,75.3C134.6,77.5 129.6,81.6 128.0,75.3C126.4,69.1 126.1,43.6 128.0,37.7Z" fill="#fff1aa"/><path d="M63.8,-1.9C95.1,-5.3 226.4,-4.1 258.9,-1.9C291.4,0.3 264.5,9.2 258.9,11.3C253.3,13.3 237.0,10.8 225.1,10.5C213.3,10.2 198.2,9.4 187.6,9.4C177.0,9.4 167.9,8.9 161.4,10.5C154.8,12.1 151.7,14.9 148.2,18.8C144.8,22.6 143.2,28.8 140.7,33.8C138.2,38.8 136.0,44.5 133.2,48.8C130.4,53.0 127.6,56.9 123.8,59.3C120.1,61.7 115.4,62.5 110.7,63.0C106.0,63.5 100.7,62.4 95.7,62.3C90.7,62.2 85.2,61.9 80.7,62.3C76.1,62.7 72.2,63.4 68.3,64.5C64.4,65.7 60.5,67.4 57.0,69.4C53.6,71.5 50.2,74.1 47.7,76.9C45.2,79.7 43.6,83.2 42.0,86.3C40.5,89.4 39.5,94.1 38.3,95.7C37.0,97.2 34.5,97.7 34.5,95.7C34.5,93.6 36.4,87.2 38.3,83.3C40.2,79.4 42.7,75.8 45.8,72.4C48.9,69.0 52.8,66.4 57.0,63.0C61.3,59.7 68.3,56.8 71.3,52.5C74.3,48.3 75.0,43.2 75.0,37.5C75.0,31.9 73.2,25.3 71.3,18.8C69.4,12.2 32.5,1.6 63.8,-1.9Z" fill="#fee394"/><path d="M73.2,-1.9C103.5,-4.6 228.0,-3.6 258.9,-1.9C289.9,-0.2 264.5,6.8 258.9,8.3C253.3,9.7 237.0,7.2 225.1,6.8C213.3,6.3 198.2,5.6 187.6,5.6C177.0,5.6 168.9,5.9 161.4,6.8C153.8,7.6 147.9,8.2 142.6,10.5C137.3,12.8 133.1,16.4 129.5,20.6C125.8,24.8 123.5,31.1 120.8,35.6C118.1,40.2 115.8,44.7 113.3,48.0C110.8,51.3 108.9,54.0 105.8,55.5C102.7,57.0 98.3,57.0 94.6,57.0C90.8,57.0 86.4,57.7 83.3,55.5C80.2,53.4 76.5,48.7 75.8,44.3C75.0,39.9 78.6,34.3 78.8,29.3C79.0,24.3 77.9,19.4 76.9,14.3C76.0,9.1 42.8,0.8 73.2,-1.9Z" fill="#fece7f"/><path d="M-1.9,-1.9C11.0,-9.4 62.5,-4.7 75.4,-1.9C88.3,0.9 78.5,11.6 75.4,15.0C72.3,18.4 63.0,14.1 56.7,18.8C50.3,23.5 47.3,39.1 37.5,43.2C27.8,47.2 4.7,50.7 -1.9,43.2C-8.4,35.6 -14.8,5.6 -1.9,-1.9Z" fill="#fee394"/><path d="M37.5,88.6C37.5,86.1 38.8,79.8 41.3,76.9C43.8,74.0 48.8,72.9 52.5,71.3C56.3,69.7 60.0,68.4 63.8,67.5C67.5,66.7 71.2,66.0 75.0,66.0C78.9,66.0 87.1,66.7 87.1,67.5C87.1,68.4 79.5,70.0 75.0,71.3C70.5,72.5 64.4,73.2 60.0,75.0C55.7,76.9 51.9,79.7 48.8,82.6C45.7,85.4 43.2,90.9 41.3,91.9C39.4,92.9 37.5,91.1 37.5,88.6Z" fill="#fece7f"/><path d="M78.8,-1.9C50.7,-0.9 86.8,1.6 90.1,3.8C93.3,5.9 95.2,8.8 98.3,11.3C101.4,13.8 105.2,17.0 108.8,18.8C112.4,20.5 116.6,22.4 120.1,21.8C123.5,21.1 125.7,17.4 129.5,15.0C133.2,12.6 136.0,9.3 142.6,7.5C149.2,5.8 160.1,5.1 168.9,4.5C177.6,3.9 185.7,3.8 195.1,3.8C204.5,3.8 214.5,4.2 225.1,4.5C235.8,4.8 253.3,6.7 258.9,5.6C264.5,4.6 288.9,-0.6 258.9,-1.9C228.9,-3.1 106.9,-2.8 78.8,-1.9Z" fill="#fdb76a"/><path d="M116.3,65.7C117.6,64.7 122.9,63.5 125.7,63.8C128.5,64.1 132.9,66.4 133.2,67.5C133.5,68.7 130.1,70.2 127.6,70.5C125.1,70.9 120.1,70.2 118.2,69.4C116.3,68.6 115.1,66.6 116.3,65.7Z" fill="#fdb76a"/><path d="M80.7,-1.9C52.5,-1.3 86.9,0.6 90.1,1.9C93.2,3.1 95.7,4.7 99.4,5.6C103.2,6.6 107.3,7.8 112.6,7.5C117.9,7.2 125.1,4.6 131.3,3.8C137.6,2.9 140.7,2.6 150.1,2.3C159.5,1.9 175.1,1.9 187.6,1.9C200.1,1.9 213.3,2.1 225.1,2.3C237.0,2.4 253.3,3.7 258.9,3.0C264.5,2.3 288.6,-1.1 258.9,-1.9C229.2,-2.7 108.8,-2.5 80.7,-1.9Z" fill="#fb9c59"/><path d="M133.2,-1.9C131.0,-0.6 134.3,3.4 135.1,5.6C135.9,7.8 137.0,10.4 138.1,11.3C139.2,12.1 140.5,11.8 141.8,10.5C143.2,9.3 145.3,5.8 146.3,3.8C147.4,1.7 150.4,-0.9 148.2,-1.9C146.0,-2.8 135.4,-3.1 133.2,-1.9Z" fill="#f67f4b"/><path d="M228.9,-1.9C233.3,-2.7 253.9,-3.6 258.9,-1.9C263.9,-0.2 261.4,6.8 258.9,8.3C256.4,9.7 248.3,7.6 243.9,6.8C239.5,5.9 235.1,4.4 232.6,3.0C230.1,1.6 224.5,-1.1 228.9,-1.9Z" fill="#ef623e"/><path d="M240.2,-1.9C242.0,-2.7 255.8,-3.1 258.9,-1.9C262.0,-0.7 260.8,4.4 258.9,5.3C257.0,6.1 250.8,4.2 247.7,3.0C244.5,1.8 238.3,-1.1 240.2,-1.9Z" fill="#e24631"/><path d="M-1.9,108.8C0.9,94.1 10.9,110.1 15.0,112.6C19.1,115.1 20.6,120.1 22.5,123.8C24.4,127.6 22.5,132.6 26.3,135.1C30.0,137.6 38.7,138.4 45.0,138.8C51.3,139.3 58.5,138.2 64.2,137.7C69.9,137.2 74.2,135.8 79.2,135.8C84.2,135.8 89.8,137.1 94.2,137.7C98.6,138.3 101.7,137.7 105.4,139.6C109.2,141.5 112.8,147.1 116.7,149.0C120.6,150.8 124.8,151.2 129.1,150.8C133.4,150.5 137.8,147.8 142.6,147.1C147.3,146.3 152.0,146.3 157.6,146.3C163.2,146.3 170.1,147.1 176.4,147.1C182.6,147.1 190.0,146.2 195.1,146.3C200.3,146.5 204.8,145.3 207.1,148.2C209.4,151.2 209.0,160.7 209.0,164.0C209.0,167.2 209.4,166.9 207.1,167.7C204.8,168.5 199.6,168.9 195.1,168.9C190.6,168.9 185.1,168.4 180.1,167.7C175.1,167.1 170.1,165.5 165.1,165.1C160.1,164.7 154.5,165.7 150.1,165.1C145.7,164.5 142.3,161.9 138.8,161.4C135.3,160.9 132.2,161.5 129.1,162.1C126.0,162.7 122.8,164.3 120.1,165.1C117.3,165.9 113.1,165.1 112.6,167.0C112.0,168.9 114.8,173.5 116.7,176.4C118.6,179.2 121.8,181.4 123.8,183.9C125.9,186.4 125.3,190.3 129.1,191.4C132.9,192.4 140.7,191.1 146.7,190.2C152.8,189.4 159.2,188.4 165.5,186.5C171.8,184.6 179.9,180.9 184.6,179.0C189.4,177.1 190.2,175.2 194.0,175.2C197.7,175.2 201.9,178.2 207.1,179.0C212.3,179.8 216.5,179.9 225.1,180.1C233.8,180.3 253.3,176.7 258.9,180.1C264.5,183.6 302.4,197.3 258.9,200.8C215.4,204.2 41.6,216.1 -1.9,200.8C-45.3,185.4 -4.7,123.5 -1.9,108.8Z" fill="#ffffbf"/><path d="M88.6,160.2C90.1,158.5 96.6,157.4 101.3,157.6C106.0,157.8 114.1,158.7 116.7,161.4C119.3,164.0 118.6,171.5 116.7,173.4C114.8,175.2 109.2,173.5 105.1,172.6C100.9,171.7 94.7,169.8 91.9,167.7C89.2,165.7 87.0,161.9 88.6,160.2Z" fill="#e0f3f8"/><path d="M-1.9,159.5C0.3,152.6 7.2,158.5 11.3,159.5C15.3,160.4 19.1,162.9 22.5,165.1C26.0,167.3 29.7,169.5 31.9,172.6C34.1,175.7 34.7,179.2 35.6,183.9C36.6,188.6 43.8,197.9 37.5,200.8C31.3,203.6 4.7,207.6 -1.9,200.8C-8.4,193.9 -4.1,166.4 -1.9,159.5Z" fill="#e0f3f8"/><path d="M24.4,101.3C25.0,99.9 29.7,99.9 33.8,99.8C37.8,99.7 46.9,99.4 48.8,100.6C50.7,101.8 48.2,105.7 45.0,106.9C41.9,108.2 33.5,109.0 30.0,108.1C26.6,107.1 23.8,102.7 24.4,101.3Z" fill="#fff1aa"/>
<use href="#land"/>
</g></g>
<rect x="406.45" y="49.05" width="257.10" height="199.10" fill="none" stroke="#262626" stroke-width="2.7"/>
<path d="M406.45,202.20h3.7M663.55,202.20h-3.7M406.45,156.26h3.7M663.55,156.26h-3.7M406.45,110.31h3.7M663.55,110.31h-3.7M406.45,64.37h3.7M663.55,64.37h-3.7M492.22,49.05v3.7M492.22,248.15v-3.7M577.98,49.05v3.7M577.98,248.15v-3.7" stroke="#262626" stroke-width="2.3" fill="none"/>
<text class="tl" x="399.80" y="67.87" font-size="15.2" text-anchor="end">60°N</text>
<text class="tl" x="399.80" y="113.81" font-size="15.2" text-anchor="end">45°N</text>
<text class="tl" x="399.80" y="159.76" font-size="15.2" text-anchor="end">30°N</text>
<text class="tl" x="399.80" y="205.70" font-size="15.2" text-anchor="end">15°N</text>
<text class="tl" x="399.80" y="251.65" font-size="15.2" text-anchor="end">0°S</text>
<g transform="translate(406.45,284.65) scale(1,0.9990)">
<g clip-path="url(#pc)">
<rect x="-5" y="-5" width="270" height="210" fill="#ffffbf"/><path d="M-1.9,-1.9C41.6,-21.0 215.4,-4.1 258.9,-1.9C302.4,0.3 262.0,8.1 258.9,11.3C255.8,14.4 245.2,15.0 240.2,16.9C235.1,18.8 231.4,19.1 228.9,22.5C226.4,26.0 225.5,31.9 225.1,37.5C224.8,43.2 227.0,50.0 227.0,56.3C227.0,62.5 225.0,67.8 225.1,75.0C225.3,82.3 227.3,93.6 227.8,99.8C228.2,106.1 228.8,109.2 227.8,112.6C226.7,115.9 225.6,118.7 221.4,120.1C217.2,121.5 209.5,120.8 202.6,120.8C195.7,120.8 187.6,120.3 180.1,120.1C172.6,119.8 163.2,119.6 157.6,119.3C152.0,119.0 149.8,119.3 146.7,118.2C143.6,117.1 141.7,115.1 138.8,112.6C136.0,110.1 132.6,106.0 129.5,103.2C126.3,100.4 122.9,97.9 120.1,95.7C117.3,93.5 115.7,91.7 112.6,90.1C109.4,88.4 105.1,86.4 101.3,85.6C97.6,84.7 94.4,85.0 90.1,84.8C85.7,84.6 80.1,84.1 75.0,84.4C70.0,84.8 64.4,85.8 60.0,87.1C55.7,88.3 51.9,89.9 48.8,91.9C45.7,94.0 43.5,96.6 41.3,99.4C39.1,102.3 37.5,106.6 35.6,108.8C33.8,111.0 36.3,111.9 30.0,112.6C23.8,113.2 3.4,131.6 -1.9,112.6C-7.2,93.5 -45.3,17.2 -1.9,-1.9Z" fill="#fff1aa"/><path d="M-1.9,-1.9C41.6,-20.0 215.4,-3.8 258.9,-1.9C302.4,-0.0 262.0,6.6 258.9,9.4C255.8,12.2 245.8,13.4 240.2,15.0C234.5,16.6 230.1,17.5 225.1,18.8C220.1,20.0 215.1,21.0 210.1,22.5C205.1,24.1 200.1,25.6 195.1,28.1C190.1,30.6 183.5,33.5 180.1,37.5C176.7,41.6 176.7,46.9 174.9,52.5C173.0,58.2 171.7,66.6 168.9,71.3C166.0,76.0 162.0,78.5 157.6,80.7C153.2,82.9 147.5,83.6 142.6,84.4C137.6,85.2 133.0,85.9 128.0,85.6C123.0,85.2 117.6,83.6 112.6,82.6C107.5,81.6 102.6,80.2 97.6,79.5C92.6,78.9 87.6,78.6 82.6,78.8C77.5,79.0 71.9,79.7 67.5,80.7C63.2,81.6 59.7,82.9 56.3,84.4C52.8,86.0 49.7,87.7 46.9,90.1C44.1,92.4 41.3,95.5 39.4,98.3C37.5,101.1 42.5,105.5 35.6,106.9C28.8,108.4 4.4,125.1 -1.9,106.9C-8.1,88.8 -45.3,16.3 -1.9,-1.9Z" fill="#fee394"/><path d="M-1.9,-1.9C41.6,-19.1 215.4,-3.4 258.9,-1.9C302.4,-0.3 262.0,5.3 258.9,7.5C255.8,9.7 245.8,10.3 240.2,11.3C234.5,12.2 230.1,12.5 225.1,13.1C220.1,13.8 215.1,14.1 210.1,15.0C205.1,15.9 200.1,17.2 195.1,18.8C190.1,20.3 183.5,21.3 180.1,24.4C176.7,27.5 176.1,32.2 174.9,37.5C173.6,42.8 174.2,50.3 172.6,56.3C171.0,62.2 168.9,69.1 165.1,73.2C161.4,77.2 156.3,79.2 150.1,80.7C143.9,82.1 134.2,82.2 128.0,81.8C121.7,81.4 117.6,79.2 112.6,78.0C107.5,76.9 102.6,75.7 97.6,75.0C92.6,74.4 87.6,74.2 82.6,74.3C77.5,74.4 71.9,74.9 67.5,75.8C63.2,76.7 59.7,77.9 56.3,79.5C52.8,81.2 49.7,83.2 46.9,85.6C44.1,87.9 41.3,91.2 39.4,93.8C37.5,96.4 42.5,100.1 35.6,101.3C28.8,102.6 4.4,118.5 -1.9,101.3C-8.1,84.1 -45.3,15.3 -1.9,-1.9Z" fill="#fece7f"/><path d="M69.4,-1.9C100.1,-4.4 227.3,-3.1 258.9,-1.9C290.5,-0.6 264.5,4.1 258.9,5.6C253.3,7.2 234.5,6.9 225.1,7.5C215.8,8.1 209.5,8.4 202.6,9.4C195.7,10.3 188.9,11.3 183.9,13.1C178.9,15.0 176.4,17.8 172.6,20.6C168.9,23.5 165.1,27.2 161.4,30.0C157.6,32.8 153.8,35.6 150.1,37.5C146.3,39.4 142.3,39.7 138.8,41.3C135.4,42.8 131.6,44.4 129.5,46.9C127.3,49.4 127.3,53.5 125.7,56.3C124.1,59.1 122.9,62.2 120.1,63.8C117.3,65.4 113.2,65.5 108.8,65.7C104.4,65.8 98.8,64.7 93.8,64.5C88.8,64.4 83.5,64.2 78.8,64.5C74.1,64.9 69.7,65.7 65.7,66.8C61.6,67.9 57.8,69.4 54.4,71.3C51.0,73.2 47.8,75.5 45.0,78.0C42.2,80.6 39.1,85.9 37.5,86.3C36.0,86.7 34.4,83.5 35.6,80.7C36.9,77.9 41.0,72.9 45.0,69.4C49.1,66.0 55.7,63.5 60.0,60.0C64.4,56.6 68.5,53.8 71.3,48.8C74.1,43.8 76.3,36.0 76.9,30.0C77.5,24.1 76.3,18.4 75.0,13.1C73.8,7.8 38.8,0.6 69.4,-1.9Z" fill="#fdb76a"/><path d="M128.0,33.9C131.1,26.1 140.5,34.5 146.8,35.8C153.1,37.0 160.9,38.6 165.7,41.4C170.4,44.3 174.1,48.7 175.1,52.7C176.0,56.8 172.9,61.5 171.3,65.9C169.7,70.3 169.1,76.0 165.7,79.1C162.2,82.2 155.6,83.8 150.6,84.7C145.6,85.7 139.3,85.1 135.5,84.7C131.8,84.4 129.2,91.3 128.0,82.9C126.7,74.4 124.9,41.7 128.0,33.9Z" fill="#fece7f"/><path d="M-1.9,-1.9C11.0,-9.4 62.5,-4.7 75.4,-1.9C88.3,0.9 78.5,11.6 75.4,15.0C72.3,18.4 63.0,14.1 56.7,18.8C50.3,23.5 47.3,39.1 37.5,43.2C27.8,47.2 4.7,50.7 -1.9,43.2C-8.4,35.6 -14.8,5.6 -1.9,-1.9Z" fill="#f67f4b"/><path d="M71.3,-1.9C101.9,-4.1 227.6,-2.8 258.9,-1.9C290.2,-0.9 264.5,2.7 258.9,3.8C253.3,4.8 235.8,4.2 225.1,4.5C214.5,4.8 203.9,5.0 195.1,5.6C186.4,6.3 178.9,7.3 172.6,8.3C166.4,9.2 162.0,10.1 157.6,11.3C153.2,12.4 150.1,13.1 146.3,15.0C142.6,16.9 138.2,19.4 135.1,22.5C132.0,25.6 129.5,30.0 127.6,33.8C125.7,37.5 125.4,41.3 123.8,45.0C122.3,48.8 120.7,53.8 118.2,56.3C115.7,58.8 112.9,59.4 108.8,60.0C104.8,60.7 98.8,59.9 93.8,60.0C88.8,60.2 83.5,60.3 78.8,60.8C74.1,61.3 69.7,61.9 65.7,63.0C61.6,64.2 57.8,65.9 54.4,67.5C51.0,69.2 47.5,71.0 45.0,73.2C42.5,75.4 40.7,80.4 39.4,80.7C38.1,81.0 36.3,77.5 37.5,75.0C38.8,72.5 43.2,68.8 46.9,65.7C50.7,62.5 56.0,59.7 60.0,56.3C64.1,52.8 68.5,49.7 71.3,45.0C74.1,40.3 76.3,33.8 76.9,28.1C77.5,22.5 76.0,16.3 75.0,11.3C74.1,6.3 40.7,0.3 71.3,-1.9Z" fill="#fb9c59"/><path d="M73.2,-1.9C103.8,-4.1 228.0,-2.7 258.9,-1.9C289.9,-1.1 267.0,2.2 258.9,3.0C250.8,3.8 223.9,2.8 210.1,3.0C196.4,3.3 185.1,3.9 176.4,4.5C167.6,5.1 163.2,5.9 157.6,6.8C152.0,7.6 147.0,8.3 142.6,9.4C138.2,10.4 135.1,10.9 131.3,13.1C127.6,15.3 123.2,18.4 120.1,22.5C116.9,26.6 114.4,33.1 112.6,37.5C110.7,41.9 110.1,45.7 108.8,48.8C107.6,51.9 107.6,54.9 105.1,56.3C102.6,57.7 98.2,56.7 93.8,57.0C89.4,57.3 83.5,57.7 78.8,58.2C74.1,58.7 69.7,59.1 65.7,60.0C61.6,61.0 57.8,62.2 54.4,63.8C51.0,65.4 47.3,67.5 45.0,69.4C42.7,71.3 40.2,76.0 40.5,75.0C40.8,74.1 43.7,67.2 46.9,63.8C50.2,60.4 56.0,58.2 60.0,54.4C64.1,50.7 68.5,46.0 71.3,41.3C74.1,36.6 76.3,31.3 76.9,26.3C77.5,21.3 75.7,15.9 75.0,11.3C74.4,6.6 42.5,0.3 73.2,-1.9Z" fill="#f67f4b"/><path d="M74.3,-1.9C79.6,-3.8 102.4,-2.8 108.8,-1.9C115.2,-0.9 112.6,0.9 112.6,3.8C112.6,6.6 110.1,10.6 108.8,15.0C107.6,19.4 106.0,25.6 105.1,30.0C104.1,34.4 103.8,37.5 103.2,41.3C102.6,45.0 102.9,50.2 101.3,52.5C99.7,54.9 97.6,54.9 93.8,55.5C90.1,56.2 83.5,55.8 78.8,56.3C74.1,56.7 69.4,57.4 65.7,58.2C61.9,58.9 59.1,59.5 56.3,60.8C53.5,62.0 50.7,64.2 48.8,65.7C46.9,67.1 44.4,70.4 45.0,69.4C45.7,68.5 49.1,63.2 52.5,60.0C56.0,56.9 61.9,54.4 65.7,50.7C69.4,46.9 72.9,42.2 75.0,37.5C77.2,32.8 78.5,27.2 78.8,22.5C79.1,17.8 77.7,13.4 76.9,9.4C76.2,5.3 69.0,-0.0 74.3,-1.9Z" fill="#ef623e"/><path d="M75.8,-1.9C78.9,-3.8 93.8,-3.4 97.6,-1.9C101.3,-0.3 98.6,4.1 98.3,7.5C98.0,10.9 96.4,15.0 95.7,18.8C94.9,22.5 94.4,26.3 93.8,30.0C93.2,33.8 92.6,38.1 91.9,41.3C91.3,44.4 91.6,46.9 90.1,48.8C88.5,50.7 85.1,52.5 82.6,52.5C80.1,52.5 75.7,51.3 75.0,48.8C74.4,46.3 77.9,41.9 78.8,37.5C79.7,33.1 80.7,27.2 80.7,22.5C80.7,17.8 79.6,13.4 78.8,9.4C78.0,5.3 72.7,-0.0 75.8,-1.9Z" fill="#e24631"/><path d="M45.2,81.0C46.1,79.9 51.3,80.0 52.7,81.0C54.1,81.9 54.6,85.5 53.7,86.6C52.7,87.7 48.5,88.5 47.1,87.6C45.7,86.6 44.3,82.1 45.2,81.0Z" fill="#e24631"/><path d="M143.1,0.9C152.5,-0.3 193.3,0.2 203.3,0.9C213.4,1.7 206.5,4.4 203.3,5.6C200.2,6.9 190.8,7.8 184.5,8.5C178.2,9.1 171.9,9.4 165.7,9.4C159.4,9.4 150.6,9.9 146.8,8.5C143.1,7.1 133.6,2.2 143.1,0.9Z" fill="#ef623e"/><path d="M128.0,11.3C128.9,12.7 131.8,10.7 133.6,9.4C135.5,8.2 137.7,5.2 139.3,3.8C140.9,2.4 144.9,1.4 143.1,0.9C141.2,0.5 130.5,-0.8 128.0,0.9C125.5,2.7 127.1,9.9 128.0,11.3Z" fill="#d22c27"/><path d="M203.3,0.9C211.2,0.2 248.8,-1.4 257.9,0.9C267.0,3.3 260.1,12.9 257.9,15.1C255.7,17.3 248.2,14.8 244.8,14.1C241.3,13.5 241.0,12.4 237.2,11.3C233.5,10.2 226.5,8.5 222.2,7.5C217.8,6.6 214.0,6.7 210.9,5.6C207.7,4.6 195.5,1.7 203.3,0.9Z" fill="#d22c27"/><path d="M225.9,0.9C229.4,0.2 252.6,-0.5 257.9,0.9C263.3,2.4 259.5,8.2 257.9,9.4C256.4,10.7 252.0,9.1 248.5,8.5C245.1,7.8 241.0,6.9 237.2,5.6C233.5,4.4 222.5,1.7 225.9,0.9Z" fill="#bc1626"/><path d="M128.0,64.0C129.2,62.9 133.6,64.0 135.5,65.0C137.4,65.9 139.6,68.4 139.3,69.7C139.0,70.9 135.5,72.2 133.6,72.5C131.8,72.8 128.9,73.0 128.0,71.6C127.1,70.2 126.7,65.1 128.0,64.0Z" fill="#e24631"/><path d="M116.8,64.0C117.4,63.2 122.7,64.2 124.3,65.0C125.9,65.8 126.8,67.9 126.2,68.7C125.5,69.6 122.1,70.8 120.5,70.1C119.0,69.3 116.1,64.9 116.8,64.0Z" fill="#d22c27"/><path d="M33.8,98.3C36.8,97.6 38.1,94.8 40.5,93.1C42.9,91.3 45.3,89.9 48.0,87.8C50.8,85.7 53.9,82.9 57.0,80.7C60.2,78.5 63.3,76.5 66.8,74.7C70.3,72.9 74.2,71.4 78.0,69.8C81.9,68.2 85.9,66.4 90.1,64.9C94.2,63.5 99.1,62.1 103.2,61.2C107.3,60.2 111.0,60.1 114.4,59.3C117.9,58.5 122.9,59.1 123.8,56.3C124.8,53.5 124.1,46.2 120.1,42.4C116.1,38.6 115.8,35.2 99.8,33.8C83.8,32.3 36.9,23.1 24.0,33.8C11.1,44.4 20.9,86.8 22.5,97.6C24.1,108.3 30.8,99.1 33.8,98.3Z" fill="#f67f4b"/><path d="M31.5,94.9C34.0,94.3 34.9,91.7 37.1,90.1C39.4,88.4 42.2,86.9 45.0,84.8C47.9,82.7 51.3,79.5 54.4,77.3C57.5,75.0 60.4,73.1 63.8,71.3C67.2,69.5 70.9,68.1 75.0,66.4C79.2,64.7 84.1,62.7 88.6,61.2C93.0,59.7 97.9,58.3 101.7,57.4C105.5,56.5 108.9,56.4 111.4,55.5C114.0,54.7 116.8,54.3 117.1,52.2C117.4,50.0 116.2,45.3 113.3,42.4C110.4,39.5 114.7,36.1 99.8,34.9C84.9,33.6 36.9,25.1 24.0,34.9C11.1,44.7 21.3,83.8 22.5,93.8C23.8,103.8 29.1,95.6 31.5,94.9Z" fill="#ef623e"/><path d="M45.8,83.3C46.0,82.6 48.5,81.6 49.5,81.8C50.5,82.1 52.0,84.1 51.8,84.8C51.5,85.6 49.0,86.6 48.0,86.3C47.0,86.1 45.5,84.1 45.8,83.3Z" fill="#e24631"/><path d="M0.0,100.0C4.4,89.3 21.7,98.1 26.4,100.0C31.1,101.9 28.2,107.8 28.2,111.3C28.2,114.8 27.9,117.9 26.4,120.7C24.8,123.5 20.7,125.7 18.8,128.2C16.9,130.8 14.4,133.9 15.1,135.8C15.7,137.7 17.3,138.0 22.6,139.5C27.9,141.1 39.9,143.6 47.1,145.2C54.3,146.8 59.6,146.8 65.9,149.0C72.2,151.2 81.3,155.9 84.7,158.4C88.2,160.9 91.3,162.9 86.6,164.0C81.9,165.1 66.2,164.7 56.5,165.0C46.8,165.3 37.7,166.1 28.2,165.9C18.8,165.8 4.7,175.0 0.0,164.0C-4.7,153.0 -4.4,110.7 0.0,100.0Z" fill="#fff1aa"/><path d="M0.0,105.6C3.8,97.2 18.5,103.8 22.6,105.6C26.7,107.5 25.1,113.5 24.5,116.9C23.9,120.4 21.0,123.5 18.8,126.4C16.6,129.2 12.6,131.1 11.3,133.9C10.0,136.7 8.5,141.4 11.3,143.3C14.1,145.2 22.3,144.3 28.2,145.2C34.2,146.1 41.4,147.4 47.1,149.0C52.7,150.5 60.6,152.7 62.1,154.6C63.7,156.5 60.6,159.0 56.5,160.3C52.4,161.5 43.9,162.1 37.7,162.1C31.4,162.1 25.1,161.2 18.8,160.3C12.6,159.3 3.1,165.6 0.0,156.5C-3.1,147.4 -3.8,114.1 0.0,105.6Z" fill="#fee394"/><path d="M11.3,145.2C12.9,143.3 22.3,146.0 28.2,147.1C34.2,148.2 43.0,150.2 47.1,151.8C51.2,153.4 54.3,155.1 52.7,156.5C51.2,157.9 43.3,159.9 37.7,160.3C32.0,160.6 23.2,160.9 18.8,158.4C14.4,155.9 9.7,147.1 11.3,145.2Z" fill="#fece7f"/><path d="M24.5,100.0C26.4,98.7 35.8,99.1 37.7,100.0C39.5,100.9 37.0,104.1 35.8,105.6C34.5,107.2 31.7,109.1 30.1,109.4C28.6,109.7 27.3,109.1 26.4,107.5C25.4,106.0 22.6,101.3 24.5,100.0Z" fill="#fb9c59"/><path d="M35.6,108.8C37.5,107.1 39.1,103.4 41.3,99.4C43.5,95.4 46.2,88.2 48.8,84.8C51.3,81.4 52.8,80.7 56.7,79.2C60.5,77.6 67.0,75.7 71.7,75.4C76.4,75.1 80.4,76.7 84.8,77.3C89.2,77.9 94.5,77.9 97.9,79.2C101.4,80.4 102.9,82.3 105.4,84.8C107.9,87.3 110.4,91.7 112.9,94.2C115.4,96.7 120.5,97.6 120.5,99.8C120.5,102.1 115.4,105.8 112.9,107.7C110.4,109.6 110.1,110.2 105.4,111.4C100.8,112.7 89.8,113.9 84.8,115.2C79.8,116.4 80.1,118.0 75.4,118.9C70.7,119.9 61.1,120.2 56.7,120.8C52.2,121.5 53.2,124.6 48.8,122.7C44.3,120.8 32.2,111.9 30.0,109.6C27.8,107.3 33.8,110.5 35.6,108.8Z" fill="#e0f3f8"/><path d="M37.5,99.4C38.8,96.3 44.4,92.2 48.8,90.1C53.2,87.9 59.4,86.3 63.8,86.3C68.2,86.3 73.8,88.1 75.0,90.1C76.3,92.1 75.0,95.8 71.3,98.3C67.5,100.8 57.5,103.3 52.5,105.1C47.5,106.8 43.8,109.8 41.3,108.8C38.8,107.9 36.3,102.6 37.5,99.4Z" fill="#cdeaf3"/><path d="M-1.9,159.5C0.3,152.6 7.2,158.5 11.3,159.5C15.3,160.4 19.1,162.9 22.5,165.1C26.0,167.3 29.7,169.5 31.9,172.6C34.1,175.7 34.7,179.2 35.6,183.9C36.6,188.6 43.8,197.9 37.5,200.8C31.3,203.6 4.7,207.6 -1.9,200.8C-8.4,193.9 -4.1,166.4 -1.9,159.5Z" fill="#cdeaf3"/><path d="M135.5,149.0C137.3,147.6 141.8,146.8 146.8,146.1C151.8,145.5 162.8,144.6 165.7,145.2C168.5,145.8 166.9,148.7 163.8,149.9C160.6,151.2 151.4,151.9 146.8,152.7C142.3,153.5 138.4,155.2 136.5,154.6C134.6,154.0 133.8,150.4 135.5,149.0Z" fill="#e0f3f8"/><path d="M175.1,145.2C176.3,144.3 180.7,144.1 184.5,143.3C188.3,142.5 195.8,140.2 197.7,140.5C199.6,140.8 198.0,143.6 195.8,145.2C193.6,146.8 187.6,149.3 184.5,149.9C181.4,150.5 178.5,149.7 177.0,149.0C175.4,148.2 173.8,146.1 175.1,145.2Z" fill="#e0f3f8"/><path d="M144.9,172.5C147.5,170.9 157.2,170.8 165.7,170.6C174.1,170.5 190.8,170.5 195.8,171.6C200.8,172.7 199.2,175.5 195.8,177.2C192.3,178.9 182.6,181.5 175.1,181.9C167.5,182.4 155.6,181.6 150.6,180.0C145.6,178.5 142.4,174.1 144.9,172.5Z" fill="#e0f3f8"/><path d="M90.4,164.0C92.3,162.9 102.3,163.9 105.5,165.0C108.6,166.1 111.1,169.5 109.2,170.6C107.3,171.7 97.3,172.7 94.2,171.6C91.0,170.5 88.5,165.1 90.4,164.0Z" fill="#e0f3f8"/>
<use href="#land"/>
</g></g>
<rect x="406.45" y="284.65" width="257.10" height="198.90" fill="none" stroke="#262626" stroke-width="2.7"/>
<path d="M406.45,437.65h3.7M663.55,437.65h-3.7M406.45,391.75h3.7M663.55,391.75h-3.7M406.45,345.85h3.7M663.55,345.85h-3.7M406.45,299.95h3.7M663.55,299.95h-3.7M492.22,284.65v3.7M492.22,483.55v-3.7M577.98,284.65v3.7M577.98,483.55v-3.7" stroke="#262626" stroke-width="2.3" fill="none"/>
<text class="tl" x="399.80" y="303.45" font-size="15.2" text-anchor="end">60°N</text>
<text class="tl" x="399.80" y="349.35" font-size="15.2" text-anchor="end">45°N</text>
<text class="tl" x="399.80" y="395.25" font-size="15.2" text-anchor="end">30°N</text>
<text class="tl" x="399.80" y="441.15" font-size="15.2" text-anchor="end">15°N</text>
<text class="tl" x="399.80" y="487.05" font-size="15.2" text-anchor="end">0°S</text>
<g transform="translate(406.45,525.55) scale(1,1.0040)">
<g clip-path="url(#pc)">
<rect x="-5" y="-5" width="270" height="210" fill="#ffffbf"/><path d="M-1.9,-1.9C41.6,-20.0 215.4,-24.7 258.9,-1.9C302.4,21.0 263.3,111.9 258.9,135.1C254.5,158.3 240.8,136.8 232.6,137.3C224.5,137.8 217.6,138.0 210.1,138.1C202.6,138.2 195.1,138.0 187.6,138.1C180.2,138.2 171.7,138.6 165.5,138.8C159.2,139.1 156.2,139.5 150.1,139.6C144.0,139.7 135.3,140.3 129.1,139.6C122.8,138.8 117.8,136.8 112.6,135.1C107.3,133.4 102.6,131.3 97.6,129.5C92.6,127.6 87.6,125.5 82.6,123.8C77.5,122.1 71.9,121.2 67.5,119.3C63.2,117.4 60.0,114.3 56.3,112.6C52.5,110.8 48.5,109.4 45.0,108.8C41.6,108.2 38.1,109.1 35.6,108.8C33.1,108.5 36.3,107.3 30.0,106.9C23.8,106.6 3.4,125.1 -1.9,106.9C-7.2,88.8 -45.3,16.3 -1.9,-1.9Z" fill="#fff1aa"/><path d="M-1.9,-1.9C41.6,-19.7 215.4,-22.2 258.9,-1.9C302.4,18.4 263.5,99.1 258.9,120.1C254.3,141.0 237.1,121.3 231.5,123.8C225.9,126.3 230.0,132.7 225.1,135.1C220.3,137.5 210.1,137.5 202.6,138.1C195.1,138.7 187.6,138.6 180.1,138.8C172.6,139.1 163.9,139.3 157.6,139.6C151.3,139.9 147.3,140.4 142.6,140.7C137.8,141.0 134.1,141.7 129.1,141.5C124.1,141.3 117.8,140.3 112.6,139.6C107.3,138.8 102.8,138.3 97.6,137.0C92.3,135.6 82.9,133.5 81.1,131.3C79.2,129.1 83.6,125.7 86.3,123.8C89.1,122.0 94.4,122.0 97.6,120.1C100.7,118.2 102.6,115.7 105.1,112.6C107.6,109.4 111.9,104.4 112.6,101.3C113.2,98.2 111.3,95.7 108.8,93.8C106.3,91.9 100.7,91.6 97.6,90.1C94.4,88.5 93.8,86.2 90.1,84.4C86.3,82.7 80.1,80.5 75.0,79.5C70.0,78.6 65.0,78.0 60.0,78.8C55.0,79.6 48.8,81.9 45.0,84.4C41.3,86.9 39.4,90.4 37.5,93.8C35.6,97.2 40.3,103.2 33.8,105.1C27.2,106.9 4.1,122.9 -1.9,105.1C-7.8,87.2 -45.3,15.9 -1.9,-1.9Z" fill="#fee394"/><path d="M52.5,-1.9C88.5,-15.0 224.5,-16.6 258.9,-1.9C293.3,12.8 262.0,70.4 258.9,86.3C255.8,102.3 244.7,89.4 240.2,93.8C235.6,98.2 235.3,107.6 231.5,112.6C227.8,117.6 223.1,121.3 217.6,123.8C212.2,126.3 205.1,127.3 198.9,127.6C192.6,127.9 186.4,127.3 180.1,125.7C173.9,124.1 166.4,121.0 161.4,118.2C156.3,115.4 153.2,111.6 150.1,108.8C147.0,106.0 145.7,103.5 142.6,101.3C139.5,99.1 135.1,97.6 131.3,95.7C127.6,93.8 124.5,91.9 120.1,90.1C115.7,88.2 109.4,86.3 105.1,84.4C100.7,82.6 98.8,80.4 93.8,78.8C88.8,77.2 80.7,75.4 75.0,75.0C69.4,74.7 65.0,75.7 60.0,76.9C55.0,78.2 48.8,80.4 45.0,82.6C41.3,84.7 39.4,87.6 37.5,90.1C35.6,92.6 35.0,96.3 33.8,97.6C32.5,98.8 29.7,99.4 30.0,97.6C30.3,95.7 33.5,89.7 35.6,86.3C37.8,82.9 40.3,91.6 43.2,76.9C46.0,62.2 16.6,11.3 52.5,-1.9Z" fill="#fece7f"/><path d="M67.5,-1.9C100.7,-13.4 227.0,-11.6 258.9,-1.9C290.8,7.8 262.0,45.7 258.9,56.3C255.8,66.9 245.2,57.8 240.2,61.9C235.1,66.0 233.9,75.0 228.9,80.7C223.9,86.3 217.0,92.6 210.1,95.7C203.3,98.8 194.5,100.4 187.6,99.4C180.7,98.5 173.9,93.5 168.9,90.1C163.9,86.6 162.0,81.3 157.6,78.8C153.2,76.3 148.2,75.7 142.6,75.0C137.0,74.4 130.1,75.4 123.8,75.0C117.6,74.7 111.3,73.5 105.1,73.2C98.8,72.9 92.6,72.9 86.3,73.2C80.1,73.5 73.2,74.1 67.5,75.0C61.9,76.0 56.6,77.2 52.5,78.8C48.5,80.4 45.3,84.1 43.2,84.4C41.0,84.7 38.5,82.6 39.4,80.7C40.3,78.8 45.3,75.4 48.8,73.2C52.2,71.0 56.9,80.1 60.0,67.5C63.2,55.0 34.4,9.7 67.5,-1.9Z" fill="#fdb76a"/><path d="M150.1,75.0C152.0,71.0 161.4,70.0 168.9,69.4C176.4,68.8 186.4,69.4 195.1,71.3C203.9,73.2 216.4,76.9 221.4,80.7C226.4,84.4 227.0,90.6 225.1,93.8C223.3,97.0 217.6,98.7 210.1,99.8C202.6,100.9 188.9,101.6 180.1,100.6C171.4,99.6 162.6,98.1 157.6,93.8C152.6,89.6 148.2,79.1 150.1,75.0Z" fill="#fdb76a"/><path d="M180.9,101.3C183.1,99.7 190.4,99.8 195.1,99.8C199.8,99.8 207.1,99.2 209.0,101.3C210.9,103.4 209.3,110.3 206.4,112.6C203.4,114.8 195.4,115.3 191.4,114.8C187.3,114.3 183.7,111.8 182.0,109.6C180.2,107.3 178.7,102.9 180.9,101.3Z" fill="#fb9c59"/><path d="M71.3,-1.9C101.9,-5.9 227.6,-5.9 258.9,-1.9C290.2,2.2 262.0,17.8 258.9,22.5C255.8,27.2 247.0,24.7 240.2,26.3C233.3,27.8 225.1,30.0 217.6,31.9C210.1,33.8 202.0,35.6 195.1,37.5C188.2,39.4 182.0,41.3 176.4,43.2C170.7,45.0 165.7,46.6 161.4,48.8C157.0,51.0 153.8,53.8 150.1,56.3C146.3,58.8 142.5,61.6 138.8,63.8C135.1,66.0 132.3,68.5 128.0,69.4C123.6,70.4 118.3,69.7 112.6,69.4C106.9,69.1 100.1,67.7 93.8,67.5C87.6,67.4 80.7,67.5 75.0,68.3C69.4,69.0 64.4,70.3 60.0,72.0C55.7,73.8 51.6,78.3 48.8,78.8C46.0,79.3 42.5,76.9 43.2,75.0C43.8,73.2 49.1,70.0 52.5,67.5C56.0,65.0 60.7,63.8 63.8,60.0C66.9,56.3 69.4,51.3 71.3,45.0C73.2,38.8 75.0,30.3 75.0,22.5C75.0,14.7 40.7,2.2 71.3,-1.9Z" fill="#fb9c59"/><path d="M176.4,22.5C178.9,19.4 189.1,18.8 195.1,18.8C201.2,18.8 210.3,19.4 212.8,22.5C215.3,25.6 213.1,34.4 210.1,37.5C207.2,40.7 200.1,41.3 195.1,41.3C190.1,41.3 183.2,40.7 180.1,37.5C177.0,34.4 173.9,25.6 176.4,22.5Z" fill="#fece7f"/><path d="M73.2,-1.9C103.5,-5.3 228.0,-4.7 258.9,-1.9C289.9,0.9 264.5,12.1 258.9,15.0C253.3,17.9 235.8,15.1 225.1,15.8C214.5,16.4 203.3,17.6 195.1,18.8C187.0,19.9 182.0,20.6 176.4,22.5C170.7,24.4 165.7,27.2 161.4,30.0C157.0,32.8 153.8,36.3 150.1,39.4C146.3,42.5 142.0,45.3 138.8,48.8C135.7,52.2 134.5,57.2 131.3,60.0C128.2,62.9 124.5,64.7 120.1,65.7C115.7,66.7 110.1,66.1 105.1,66.0C100.1,66.0 95.1,65.2 90.1,65.3C85.1,65.4 79.7,65.5 75.0,66.4C70.4,67.3 65.7,68.8 61.9,70.5C58.2,72.3 55.0,76.5 52.5,76.9C50.0,77.4 46.3,75.4 46.9,73.2C47.5,71.0 52.8,67.2 56.3,63.8C59.7,60.4 64.4,56.9 67.5,52.5C70.7,48.2 73.5,43.2 75.0,37.5C76.6,31.9 77.2,25.3 76.9,18.8C76.6,12.2 42.8,1.6 73.2,-1.9Z" fill="#f67f4b"/><path d="M-1.9,-1.9C11.0,-9.4 62.5,-4.7 75.4,-1.9C88.3,0.9 78.5,11.6 75.4,15.0C72.3,18.4 63.0,14.1 56.7,18.8C50.3,23.5 47.3,39.1 37.5,43.2C27.8,47.2 4.7,50.7 -1.9,43.2C-8.4,35.6 -14.8,5.6 -1.9,-1.9Z" fill="#ef623e"/><path d="M74.3,-1.9C104.6,-4.7 228.1,-4.1 258.9,-1.9C289.7,0.3 264.5,9.1 258.9,11.3C253.3,13.4 235.8,11.1 225.1,11.3C214.5,11.4 203.9,11.5 195.1,12.0C186.4,12.5 178.9,13.0 172.6,14.3C166.4,15.5 161.7,16.9 157.6,19.5C153.5,22.1 149.8,26.4 148.2,30.0C146.7,33.6 146.7,37.2 148.2,41.3C149.8,45.3 155.4,50.3 157.6,54.4C159.8,58.5 162.0,62.2 161.4,65.7C160.7,69.1 158.2,73.0 153.8,75.0C149.5,77.0 142.0,77.5 135.1,77.7C128.2,77.8 119.4,76.5 112.6,75.8C105.7,75.0 100.1,73.6 93.8,73.2C87.6,72.7 80.4,72.9 75.0,73.2C69.7,73.5 65.7,74.1 61.9,75.0C58.2,76.0 54.7,78.9 52.5,78.8C50.3,78.7 47.5,77.4 48.8,74.3C50.0,71.2 56.3,64.3 60.0,60.0C63.8,55.8 68.5,53.2 71.3,48.8C74.1,44.4 76.0,39.4 76.9,33.8C77.9,28.1 77.4,21.0 76.9,15.0C76.5,9.1 44.0,0.9 74.3,-1.9Z" fill="#ef623e"/><path d="M75.0,-1.9C105.3,-4.7 228.3,-3.8 258.9,-1.9C289.6,-0.0 262.0,7.7 258.9,9.4C255.8,11.1 245.8,8.9 240.2,8.3C234.5,7.6 231.4,6.3 225.1,5.6C218.9,5.0 210.1,4.5 202.6,4.5C195.1,4.5 187.6,5.0 180.1,5.6C172.6,6.3 164.5,7.2 157.6,8.3C150.7,9.3 143.8,9.6 138.8,12.0C133.8,14.4 129.8,18.6 127.6,22.5C125.4,26.5 124.8,31.6 125.7,35.6C126.6,39.7 130.1,43.6 133.2,46.9C136.3,50.2 142.0,52.7 144.5,55.5C147.0,58.3 148.5,61.2 148.2,63.8C147.9,66.4 146.0,69.7 142.6,71.3C139.1,72.9 132.6,73.5 127.6,73.5C122.6,73.5 117.6,72.3 112.6,71.3C107.6,70.3 102.6,68.7 97.6,67.5C92.6,66.4 87.2,64.9 82.6,64.5C77.9,64.2 73.2,65.0 69.4,65.7C65.7,66.3 62.9,67.4 60.0,68.3C57.2,69.2 52.5,73.0 52.5,71.3C52.5,69.6 56.9,62.2 60.0,58.2C63.2,54.1 68.5,51.3 71.3,46.9C74.1,42.5 75.9,37.2 76.9,31.9C78.0,26.6 78.0,20.6 77.7,15.0C77.4,9.4 44.8,0.9 75.0,-1.9Z" fill="#e24631"/><path d="M76.9,-1.9C81.8,-5.3 103.8,-3.4 108.8,-1.9C113.8,-0.3 107.9,4.1 106.9,7.5C106.0,10.9 104.4,15.0 103.2,18.8C101.9,22.5 100.3,26.9 99.4,30.0C98.6,33.1 97.1,34.7 98.3,37.5C99.6,40.3 103.3,43.8 106.9,46.9C110.6,50.0 116.0,53.8 120.1,56.3C124.1,58.8 128.2,60.0 131.3,61.9C134.5,63.8 139.5,66.1 138.8,67.5C138.2,69.0 132.0,70.5 127.6,70.5C123.2,70.5 117.6,69.3 112.6,67.5C107.6,65.8 101.9,62.2 97.6,60.0C93.2,57.8 89.4,56.0 86.3,54.4C83.2,52.8 81.0,51.9 78.8,50.7C76.6,49.4 73.5,49.4 73.2,46.9C72.9,44.4 75.9,40.3 76.9,35.6C78.0,31.0 79.5,25.0 79.5,18.8C79.5,12.5 72.0,1.6 76.9,-1.9Z" fill="#d22c27"/><path d="M123.8,56.3C125.4,55.3 130.7,54.4 135.1,54.4C139.5,54.4 147.9,55.3 150.1,56.3C152.3,57.2 150.7,59.3 148.2,60.0C145.7,60.8 138.8,60.8 135.1,60.8C131.3,60.8 127.6,60.8 125.7,60.0C123.8,59.3 122.3,57.2 123.8,56.3Z" fill="#ef623e"/><path d="M184.5,0.9C195.2,0.2 245.7,-1.4 257.9,0.9C270.2,3.3 260.1,12.9 257.9,15.1C255.7,17.3 248.8,15.1 244.8,14.1C240.7,13.2 238.8,10.7 233.5,9.4C228.1,8.2 219.3,7.2 212.7,6.6C206.1,6.0 198.6,6.6 193.9,5.6C189.2,4.7 173.8,1.7 184.5,0.9Z" fill="#d22c27"/><path d="M212.7,0.9C216.8,0.3 250.4,-0.5 257.9,0.9C265.5,2.4 260.1,8.2 257.9,9.4C255.7,10.7 248.8,9.3 244.8,8.5C240.7,7.7 238.8,6.0 233.5,4.7C228.1,3.5 208.7,1.6 212.7,0.9Z" fill="#bc1626"/><path d="M128.0,0.9C130.5,-1.7 141.2,-0.2 143.1,0.9C144.9,2.0 140.9,5.5 139.3,7.5C137.7,9.6 135.5,11.6 133.6,13.2C131.8,14.8 128.9,19.0 128.0,16.9C127.1,14.9 125.5,3.6 128.0,0.9Z" fill="#d22c27"/><path d="M128.0,64.0C129.6,62.8 135.2,63.2 137.4,64.0C139.6,64.8 141.5,67.3 141.2,68.7C140.9,70.2 137.7,72.0 135.5,72.5C133.3,73.0 129.2,73.0 128.0,71.6C126.7,70.2 126.4,65.3 128.0,64.0Z" fill="#d22c27"/><path d="M33.8,98.3C36.8,97.6 38.1,94.8 40.5,93.1C42.9,91.3 45.3,89.9 48.0,87.8C50.8,85.7 53.9,82.9 57.0,80.7C60.2,78.5 63.3,76.5 66.8,74.7C70.3,72.9 74.2,71.4 78.0,69.8C81.9,68.2 85.9,66.4 90.1,64.9C94.2,63.5 99.1,62.1 103.2,61.2C107.3,60.2 111.0,60.1 114.4,59.3C117.9,58.5 122.9,59.1 123.8,56.3C124.8,53.5 124.1,46.2 120.1,42.4C116.1,38.6 115.8,35.2 99.8,33.8C83.8,32.3 36.9,23.1 24.0,33.8C11.1,44.4 20.9,86.8 22.5,97.6C24.1,108.3 30.8,99.1 33.8,98.3Z" fill="#ef623e"/><path d="M31.5,94.9C34.0,94.3 34.9,91.7 37.1,90.1C39.4,88.4 42.2,86.9 45.0,84.8C47.9,82.7 51.3,79.5 54.4,77.3C57.5,75.0 60.4,73.1 63.8,71.3C67.2,69.5 70.9,68.1 75.0,66.4C79.2,64.7 84.1,62.7 88.6,61.2C93.0,59.7 97.9,58.3 101.7,57.4C105.5,56.5 108.9,56.4 111.4,55.5C114.0,54.7 116.8,54.3 117.1,52.2C117.4,50.0 116.2,45.3 113.3,42.4C110.4,39.5 114.7,36.1 99.8,34.9C84.9,33.6 36.9,25.1 24.0,34.9C11.1,44.7 21.3,83.8 22.5,93.8C23.8,103.8 29.1,95.6 31.5,94.9Z" fill="#e24631"/><path d="M0.0,103.8C4.4,93.7 21.7,101.9 26.4,103.8C31.1,105.6 28.6,111.6 28.2,115.1C27.9,118.5 26.4,121.7 24.5,124.5C22.6,127.3 18.8,129.8 16.9,132.0C15.1,134.2 12.2,136.1 13.2,137.7C14.1,139.2 16.9,139.9 22.6,141.4C28.2,143.0 39.9,145.5 47.1,147.1C54.3,148.7 59.6,149.0 65.9,150.8C72.2,152.7 81.9,156.2 84.7,158.4C87.6,160.6 87.6,163.1 82.9,164.0C78.2,165.0 65.6,163.7 56.5,164.0C47.4,164.3 37.7,165.9 28.2,165.9C18.8,165.9 4.7,174.4 0.0,164.0C-4.7,153.7 -4.4,113.8 0.0,103.8Z" fill="#fee394"/><path d="M0.0,105.6C4.1,96.5 20.1,103.8 24.5,105.6C28.9,107.5 27.0,113.5 26.4,116.9C25.7,120.4 22.9,123.5 20.7,126.4C18.5,129.2 14.1,131.1 13.2,133.9C12.2,136.7 11.0,140.8 15.1,143.3C19.1,145.8 30.8,147.1 37.7,149.0C44.6,150.8 50.8,152.7 56.5,154.6C62.1,156.5 71.6,158.9 71.6,160.3C71.6,161.7 62.1,162.3 56.5,163.1C50.8,163.9 43.9,165.1 37.7,165.0C31.4,164.8 25.1,162.9 18.8,162.1C12.6,161.4 3.1,169.7 0.0,160.3C-3.1,150.8 -4.1,114.8 0.0,105.6Z" fill="#fece7f"/><path d="M18.8,149.0C21.7,148.0 32.0,151.2 37.7,152.7C43.3,154.3 51.5,156.5 52.7,158.4C54.0,160.3 49.3,162.9 45.2,164.0C41.1,165.1 32.3,165.9 28.2,165.0C24.2,164.0 22.3,161.0 20.7,158.4C19.1,155.7 16.0,149.9 18.8,149.0Z" fill="#fdb76a"/><path d="M24.5,156.5C26.7,155.2 34.2,155.6 37.7,156.5C41.1,157.4 45.8,160.7 45.2,162.1C44.6,163.6 37.4,164.7 33.9,165.0C30.4,165.3 26.1,165.4 24.5,164.0C22.9,162.6 22.3,157.8 24.5,156.5Z" fill="#fb9c59"/><path d="M26.4,100.0C29.0,98.6 41.1,99.1 43.3,100.0C45.5,100.9 41.4,103.8 39.5,105.6C37.7,107.5 34.1,110.8 32.0,111.3C30.0,111.8 28.2,110.4 27.3,108.5C26.4,106.6 23.7,101.4 26.4,100.0Z" fill="#ef623e"/><path d="M5.6,118.8C6.6,117.9 10.0,117.1 11.3,117.9C12.6,118.7 13.7,122.1 13.2,123.5C12.7,125.0 9.7,126.4 8.5,126.4C7.2,126.4 6.1,124.8 5.6,123.5C5.2,122.3 4.7,119.8 5.6,118.8Z" fill="#e0f3f8"/><path d="M33.9,105.6C34.8,104.1 42.1,102.2 45.2,101.9C48.3,101.6 51.8,102.5 52.7,103.8C53.7,105.0 53.0,108.2 50.8,109.4C48.7,110.7 42.4,111.9 39.5,111.3C36.7,110.7 33.0,107.2 33.9,105.6Z" fill="#e0f3f8"/><path d="M90.4,162.1C91.0,160.3 97.9,160.9 101.7,162.1C105.5,163.4 111.4,167.5 113.0,169.7C114.6,171.9 113.6,174.7 111.1,175.3C108.6,176.0 101.4,175.6 97.9,173.4C94.5,171.2 89.8,164.0 90.4,162.1Z" fill="#e0f3f8"/><path d="M-1.9,159.5C0.3,152.6 7.2,158.5 11.3,159.5C15.3,160.4 19.1,162.9 22.5,165.1C26.0,167.3 29.7,169.5 31.9,172.6C34.1,175.7 34.7,179.2 35.6,183.9C36.6,188.6 43.8,197.9 37.5,200.8C31.3,203.6 4.7,207.6 -1.9,200.8C-8.4,193.9 -4.1,166.4 -1.9,159.5Z" fill="#cdeaf3"/><path d="M35.6,91.9C38.1,88.5 43.5,85.7 48.8,84.4C54.1,83.2 61.3,83.8 67.5,84.4C73.8,85.1 82.6,86.3 86.3,88.2C90.1,90.1 91.9,93.5 90.1,95.7C88.2,97.9 80.7,99.1 75.0,101.3C69.4,103.5 61.9,106.9 56.3,108.8C50.7,110.7 45.0,113.2 41.3,112.6C37.5,111.9 34.7,108.5 33.8,105.1C32.8,101.6 33.1,95.4 35.6,91.9Z" fill="#e0f3f8"/><path d="M45.0,99.4C46.3,97.6 53.8,95.1 56.3,95.7C58.8,96.3 61.3,101.3 60.0,103.2C58.8,105.1 51.3,107.6 48.8,106.9C46.3,106.3 43.8,101.3 45.0,99.4Z" fill="#cdeaf3"/><path d="M150.6,175.3C154.0,173.9 167.9,174.2 175.1,174.4C182.3,174.5 191.1,174.9 193.9,176.3C196.7,177.7 195.8,181.3 192.0,182.9C188.3,184.4 177.6,185.7 171.3,185.7C165.0,185.7 157.8,184.6 154.4,182.9C150.9,181.1 147.1,176.7 150.6,175.3Z" fill="#e0f3f8"/><path d="M128.0,169.7C128.6,168.9 130.8,169.7 131.8,170.6C132.7,171.6 134.3,174.5 133.6,175.3C133.0,176.1 128.9,176.3 128.0,175.3C127.1,174.4 127.4,170.5 128.0,169.7Z" fill="#e0f3f8"/>
<use href="#land"/>
</g></g>
<rect x="406.45" y="525.55" width="257.10" height="199.90" fill="none" stroke="#262626" stroke-width="2.7"/>
<path d="M406.45,679.32h3.7M663.55,679.32h-3.7M406.45,633.19h3.7M663.55,633.19h-3.7M406.45,587.06h3.7M663.55,587.06h-3.7M406.45,540.93h3.7M663.55,540.93h-3.7M492.22,525.55v3.7M492.22,725.45v-3.7M577.98,525.55v3.7M577.98,725.45v-3.7" stroke="#262626" stroke-width="2.3" fill="none"/>
<text class="tl" x="399.80" y="544.43" font-size="15.2" text-anchor="end">60°N</text>
<text class="tl" x="399.80" y="590.56" font-size="15.2" text-anchor="end">45°N</text>
<text class="tl" x="399.80" y="636.69" font-size="15.2" text-anchor="end">30°N</text>
<text class="tl" x="399.80" y="682.82" font-size="15.2" text-anchor="end">15°N</text>
<text class="tl" x="399.80" y="728.95" font-size="15.2" text-anchor="end">0°S</text>
<g transform="translate(406.45,767.75) scale(1,0.9995)">
<g clip-path="url(#pc)">
<rect x="-5" y="-5" width="270" height="210" fill="#ffffbf"/><path d="M-1.9,-1.9C41.6,-21.0 215.4,-27.2 258.9,-1.9C302.4,23.5 263.3,124.5 258.9,150.1C254.5,175.7 240.8,151.5 232.6,152.0C224.5,152.5 217.6,153.1 210.1,153.1C202.6,153.1 195.1,152.5 187.6,152.0C180.2,151.5 171.7,150.4 165.5,150.1C159.2,149.8 156.2,150.0 150.1,150.1C144.0,150.2 135.3,151.2 129.1,150.8C122.8,150.5 117.8,149.3 112.6,148.2C107.3,147.2 102.6,146.0 97.6,144.5C92.6,142.9 87.6,141.0 82.6,138.8C77.5,136.6 71.9,133.8 67.5,131.3C63.2,128.8 60.0,126.3 56.3,123.8C52.5,121.3 48.5,118.2 45.0,116.3C41.6,114.4 38.1,113.2 35.6,112.6C33.1,111.9 36.3,112.6 30.0,112.6C23.8,112.6 3.4,131.6 -1.9,112.6C-7.2,93.5 -45.3,17.2 -1.9,-1.9Z" fill="#fff1aa"/><path d="M-1.9,-1.9C41.6,-20.3 215.4,-24.7 258.9,-1.9C302.4,21.0 263.3,111.9 258.9,135.1C254.5,158.3 240.8,136.7 232.6,137.3C224.5,138.0 217.6,138.5 210.1,138.8C202.6,139.2 195.1,139.5 187.6,139.6C180.2,139.7 171.7,139.4 165.5,139.6C159.2,139.8 156.2,140.2 150.1,140.7C144.0,141.2 135.3,142.6 129.1,142.6C122.8,142.6 117.8,141.5 112.6,140.7C107.3,140.0 102.8,139.3 97.6,138.1C92.3,136.8 84.8,135.6 81.1,133.2C77.3,130.8 74.2,126.6 75.0,123.8C75.9,121.0 83.2,118.8 86.3,116.3C89.4,113.8 93.2,111.3 93.8,108.8C94.4,106.3 93.2,103.8 90.1,101.3C86.9,98.8 80.1,95.4 75.0,93.8C70.0,92.2 65.0,91.9 60.0,91.9C55.0,91.9 48.8,92.6 45.0,93.8C41.3,95.1 39.4,96.9 37.5,99.4C35.6,101.9 40.3,107.3 33.8,108.8C27.2,110.4 4.1,127.3 -1.9,108.8C-7.8,90.4 -45.3,16.6 -1.9,-1.9Z" fill="#fee394"/><path d="M52.5,-1.9C88.5,-15.6 224.5,-22.8 258.9,-1.9C293.3,19.1 263.5,102.3 258.9,123.8C254.3,145.4 239.6,126.3 231.5,127.6C223.4,128.8 217.4,130.7 210.1,131.3C202.8,132.0 195.1,131.6 187.6,131.3C180.2,131.0 171.7,130.4 165.5,129.5C159.2,128.5 155.8,127.4 150.1,125.7C144.4,124.0 137.6,121.5 131.3,119.3C125.1,117.1 118.2,114.6 112.6,112.6C106.9,110.5 101.9,109.1 97.6,106.9C93.2,104.8 90.1,101.9 86.3,99.4C82.6,96.9 79.4,93.8 75.0,91.9C70.7,90.1 65.0,88.5 60.0,88.2C55.0,87.9 48.8,88.8 45.0,90.1C41.3,91.3 39.7,93.5 37.5,95.7C35.3,97.9 33.1,101.9 31.9,103.2C30.6,104.4 29.4,105.1 30.0,103.2C30.6,101.3 33.5,95.7 35.6,91.9C37.8,88.2 40.3,96.3 43.2,80.7C46.0,65.0 16.6,11.9 52.5,-1.9Z" fill="#fece7f"/><path d="M60.0,-1.9C93.8,-14.4 225.8,-17.8 258.9,-1.9C292.1,14.1 262.0,76.6 258.9,93.8C255.8,111.0 245.0,98.2 240.2,101.3C235.3,104.4 234.0,108.8 229.6,112.6C225.3,116.3 219.6,121.6 213.9,123.8C208.1,126.0 201.4,126.3 195.1,125.7C188.9,125.1 182.0,122.9 176.4,120.1C170.7,117.3 165.7,112.6 161.4,108.8C157.0,105.1 154.5,100.7 150.1,97.6C145.7,94.4 140.1,91.9 135.1,90.1C130.1,88.2 125.1,87.4 120.1,86.3C115.1,85.2 110.1,84.1 105.1,83.3C100.1,82.6 95.1,82.2 90.1,81.8C85.1,81.4 80.1,80.4 75.0,80.7C70.0,80.9 64.4,82.1 60.0,83.3C55.7,84.6 51.9,86.4 48.8,88.2C45.7,89.9 43.2,93.2 41.3,93.8C39.4,94.4 36.9,93.8 37.5,91.9C38.1,90.1 41.9,85.7 45.0,82.6C48.2,79.4 53.8,87.2 56.3,73.2C58.8,59.1 26.3,10.6 60.0,-1.9Z" fill="#fdb76a"/><path d="M67.5,-1.9C100.4,-12.8 227.0,-11.6 258.9,-1.9C290.8,7.8 261.4,46.0 258.9,56.3C256.4,66.6 248.3,57.5 243.9,60.0C239.5,62.5 235.1,66.9 232.6,71.3C230.1,75.7 231.4,81.9 228.9,86.3C226.4,90.7 222.0,94.7 217.6,97.6C213.3,100.4 208.3,102.6 202.6,103.2C197.0,103.8 189.5,102.9 183.9,101.3C178.2,99.7 173.2,96.6 168.9,93.8C164.5,91.0 161.4,86.9 157.6,84.4C153.8,81.9 150.7,80.4 146.3,78.8C142.0,77.2 137.0,76.0 131.3,75.0C125.7,74.1 118.8,73.7 112.6,73.2C106.3,72.7 100.1,72.0 93.8,72.0C87.6,72.0 80.7,72.4 75.0,73.2C69.4,74.0 64.1,75.4 60.0,76.9C56.0,78.5 53.5,81.9 50.7,82.6C47.8,83.2 42.8,82.2 43.2,80.7C43.5,79.1 49.4,76.0 52.5,73.2C55.7,70.4 59.4,76.3 61.9,63.8C64.4,51.3 34.7,9.1 67.5,-1.9Z" fill="#fb9c59"/><path d="M150.1,80.7C152.0,76.9 161.4,75.7 168.9,75.0C176.4,74.4 186.4,75.4 195.1,76.9C203.9,78.5 216.1,81.0 221.4,84.4C226.7,87.9 228.9,94.1 227.0,97.6C225.1,101.0 217.9,103.5 210.1,105.1C202.3,106.6 188.9,108.2 180.1,106.9C171.4,105.7 162.6,101.9 157.6,97.6C152.6,93.2 148.2,84.4 150.1,80.7Z" fill="#fb9c59"/><path d="M172.6,101.3C175.7,99.5 188.9,99.8 195.1,99.8C201.4,99.8 207.9,99.2 210.1,101.3C212.3,103.4 211.4,110.3 208.3,112.6C205.1,114.8 196.7,115.1 191.4,114.8C186.1,114.5 179.5,112.9 176.4,110.7C173.2,108.4 169.5,103.1 172.6,101.3Z" fill="#fb9c59"/><path d="M71.3,-1.9C101.9,-5.9 227.6,-6.6 258.9,-1.9C290.2,2.8 262.0,21.0 258.9,26.3C255.8,31.6 247.0,28.5 240.2,30.0C233.3,31.6 225.1,33.8 217.6,35.6C210.1,37.5 202.0,39.4 195.1,41.3C188.2,43.2 182.0,45.0 176.4,46.9C170.7,48.8 165.7,50.3 161.4,52.5C157.0,54.7 153.8,57.7 150.1,60.0C146.3,62.4 142.5,64.9 138.8,66.8C135.1,68.7 132.3,70.5 128.0,71.3C123.6,72.0 118.3,71.6 112.6,71.3C106.9,71.0 100.1,69.6 93.8,69.4C87.6,69.2 80.7,69.4 75.0,70.2C69.4,70.9 64.1,72.4 60.0,73.9C56.0,75.5 53.2,79.0 50.7,79.5C48.2,80.1 44.4,78.9 45.0,76.9C45.7,74.9 51.0,71.0 54.4,67.5C57.8,64.1 62.5,60.7 65.7,56.3C68.8,51.9 71.6,46.9 73.2,41.3C74.7,35.6 75.4,29.7 75.0,22.5C74.7,15.3 40.7,2.2 71.3,-1.9Z" fill="#f67f4b"/><path d="M176.4,22.5C178.9,19.4 189.1,19.1 195.1,18.8C201.2,18.4 209.6,18.1 212.8,20.6C215.9,23.1 216.8,30.3 213.9,33.8C210.9,37.2 200.8,40.7 195.1,41.3C189.5,41.9 183.2,40.7 180.1,37.5C177.0,34.4 173.9,25.6 176.4,22.5Z" fill="#fece7f"/><path d="M-1.9,-1.9C11.0,-9.4 62.5,-4.7 75.4,-1.9C88.3,0.9 78.5,11.6 75.4,15.0C72.3,18.4 63.0,14.1 56.7,18.8C50.3,23.5 47.3,39.1 37.5,43.2C27.8,47.2 4.7,50.7 -1.9,43.2C-8.4,35.6 -14.8,5.6 -1.9,-1.9Z" fill="#d22c27"/><path d="M73.2,-1.9C103.5,-4.4 228.0,-5.0 258.9,-1.9C289.9,1.3 264.5,13.6 258.9,16.9C253.3,20.2 235.8,17.2 225.1,18.0C214.5,18.8 203.3,20.4 195.1,21.8C187.0,23.1 181.4,24.3 176.4,26.3C171.4,28.3 167.6,30.6 165.1,33.8C162.6,36.9 161.0,41.3 161.4,45.0C161.7,48.8 165.7,52.5 167.0,56.3C168.2,60.0 169.8,64.1 168.9,67.5C167.9,71.0 165.1,74.9 161.4,76.9C157.6,78.9 152.0,79.1 146.3,79.5C140.7,80.0 133.8,80.0 127.6,79.5C121.3,79.1 115.1,77.8 108.8,76.9C102.6,76.0 95.7,74.7 90.1,74.3C84.4,73.9 79.7,73.9 75.0,74.3C70.4,74.7 65.7,75.9 61.9,76.9C58.2,78.0 54.7,80.7 52.5,80.7C50.3,80.7 47.5,79.7 48.8,76.9C50.0,74.1 56.3,68.5 60.0,63.8C63.8,59.1 68.5,54.4 71.3,48.8C74.1,43.2 76.0,36.0 76.9,30.0C77.9,24.1 77.5,18.4 76.9,13.1C76.3,7.8 42.8,0.6 73.2,-1.9Z" fill="#ef623e"/><path d="M74.3,-1.9C104.5,-4.7 228.1,-4.2 258.9,-1.9C289.7,0.4 264.5,9.7 258.9,12.0C253.3,14.3 235.8,11.8 225.1,12.0C214.5,12.2 203.9,12.5 195.1,13.1C186.4,13.8 178.9,14.5 172.6,15.8C166.4,17.0 162.0,18.8 157.6,20.6C153.2,22.5 148.8,24.5 146.3,27.0C143.8,29.5 142.3,32.6 142.6,35.6C142.9,38.6 146.0,41.6 148.2,45.0C150.4,48.5 154.2,52.8 155.7,56.3C157.3,59.7 158.5,62.9 157.6,65.7C156.7,68.5 153.8,71.5 150.1,73.2C146.3,74.9 140.7,75.5 135.1,75.8C129.5,76.1 122.6,75.7 116.3,75.0C110.1,74.4 103.2,73.0 97.6,72.0C91.9,71.1 87.2,69.7 82.6,69.4C77.9,69.2 73.2,69.9 69.4,70.5C65.7,71.2 62.9,72.1 60.0,73.2C57.2,74.2 52.5,78.8 52.5,76.9C52.5,75.0 56.9,66.6 60.0,61.9C63.2,57.2 68.5,53.5 71.3,48.8C74.1,44.1 75.9,39.4 76.9,33.8C78.0,28.1 78.1,21.0 77.7,15.0C77.2,9.1 44.1,0.9 74.3,-1.9Z" fill="#e24631"/><path d="M75.0,-1.9C105.3,-4.1 228.3,-3.4 258.9,-1.9C289.6,-0.3 263.3,6.1 258.9,7.5C254.5,8.9 240.8,7.1 232.6,6.8C224.5,6.4 218.9,5.6 210.1,5.6C201.4,5.6 188.9,6.1 180.1,6.8C171.4,7.4 164.5,8.3 157.6,9.4C150.7,10.4 143.8,10.9 138.8,13.1C133.8,15.3 130.1,19.1 127.6,22.5C125.1,26.0 123.2,30.0 123.8,33.8C124.5,37.5 128.2,41.9 131.3,45.0C134.5,48.2 139.8,50.0 142.6,52.5C145.4,55.0 147.9,57.2 148.2,60.0C148.5,62.9 147.3,67.4 144.5,69.4C141.7,71.4 136.0,71.7 131.3,72.0C126.6,72.4 121.3,72.0 116.3,71.3C111.3,70.5 106.3,68.8 101.3,67.5C96.3,66.3 91.0,64.4 86.3,63.8C81.6,63.2 77.2,63.3 73.2,63.8C69.1,64.3 64.7,65.9 61.9,66.8C59.1,67.7 56.0,71.2 56.3,69.4C56.6,67.7 61.0,60.7 63.8,56.3C66.6,51.9 70.9,48.2 73.2,43.2C75.5,38.1 76.9,31.6 77.7,26.3C78.4,21.0 78.1,15.9 77.7,11.3C77.2,6.6 44.8,0.3 75.0,-1.9Z" fill="#d22c27"/><path d="M123.8,56.3C125.4,55.3 130.7,54.4 135.1,54.4C139.5,54.4 147.9,55.3 150.1,56.3C152.3,57.2 150.7,59.3 148.2,60.0C145.7,60.8 138.8,60.8 135.1,60.8C131.3,60.8 127.6,60.8 125.7,60.0C123.8,59.3 122.3,57.2 123.8,56.3Z" fill="#ef623e"/><path d="M193.9,0.9C201.4,0.2 247.3,-1.1 257.9,0.9C268.6,3.0 260.1,11.3 257.9,13.2C255.7,15.1 248.8,13.0 244.8,12.2C240.7,11.5 238.8,9.6 233.5,8.5C228.1,7.4 219.3,6.9 212.7,5.6C206.1,4.4 186.4,1.7 193.9,0.9Z" fill="#bc1626"/><path d="M128.0,0.9C130.5,-1.7 141.2,-0.2 143.1,0.9C144.9,2.0 140.9,5.5 139.3,7.5C137.7,9.6 135.5,11.6 133.6,13.2C131.8,14.8 128.9,19.0 128.0,16.9C127.1,14.9 125.5,3.6 128.0,0.9Z" fill="#bc1626"/><path d="M128.0,63.1C129.6,61.5 135.1,62.3 137.4,63.1C139.8,63.9 142.1,66.2 142.1,67.8C142.1,69.4 139.8,71.7 137.4,72.5C135.1,73.3 129.6,74.1 128.0,72.5C126.4,70.9 126.4,64.7 128.0,63.1Z" fill="#bc1626"/><path d="M80.7,-1.9C83.5,-4.1 94.9,-3.8 97.6,-1.9C100.3,-0.0 97.4,5.3 96.8,9.4C96.2,13.4 94.9,18.4 93.8,22.5C92.7,26.6 91.6,30.6 90.1,33.8C88.5,36.9 86.6,40.3 84.4,41.3C82.2,42.2 77.9,41.9 76.9,39.4C76.0,36.9 78.2,31.0 78.8,26.3C79.4,21.6 80.4,15.9 80.7,11.3C81.0,6.6 77.9,0.3 80.7,-1.9Z" fill="#bc1626"/><path d="M33.8,98.3C36.8,97.6 38.1,94.8 40.5,93.1C42.9,91.3 45.3,89.9 48.0,87.8C50.8,85.7 53.9,82.9 57.0,80.7C60.2,78.5 63.3,76.5 66.8,74.7C70.3,72.9 74.2,71.4 78.0,69.8C81.9,68.2 85.9,66.4 90.1,64.9C94.2,63.5 99.1,62.1 103.2,61.2C107.3,60.2 111.0,60.1 114.4,59.3C117.9,58.5 122.9,59.1 123.8,56.3C124.8,53.5 124.1,46.2 120.1,42.4C116.1,38.6 115.8,35.2 99.8,33.8C83.8,32.3 36.9,23.1 24.0,33.8C11.1,44.4 20.9,86.8 22.5,97.6C24.1,108.3 30.8,99.1 33.8,98.3Z" fill="#e24631"/><path d="M31.5,94.9C34.0,94.3 34.9,91.7 37.1,90.1C39.4,88.4 42.2,86.9 45.0,84.8C47.9,82.7 51.3,79.5 54.4,77.3C57.5,75.0 60.4,73.1 63.8,71.3C67.2,69.5 70.9,68.1 75.0,66.4C79.2,64.7 84.1,62.7 88.6,61.2C93.0,59.7 97.9,58.3 101.7,57.4C105.5,56.5 108.9,56.4 111.4,55.5C114.0,54.7 116.8,54.3 117.1,52.2C117.4,50.0 116.2,45.3 113.3,42.4C110.4,39.5 114.7,36.1 99.8,34.9C84.9,33.6 36.9,25.1 24.0,34.9C11.1,44.7 21.3,83.8 22.5,93.8C23.8,103.8 29.1,95.6 31.5,94.9Z" fill="#d22c27"/><path d="M0.0,103.8C4.4,93.7 21.7,101.9 26.4,103.8C31.1,105.6 28.6,111.6 28.2,115.1C27.9,118.5 26.4,121.7 24.5,124.5C22.6,127.3 18.8,129.8 16.9,132.0C15.1,134.2 12.2,136.1 13.2,137.7C14.1,139.2 16.9,140.2 22.6,141.4C28.2,142.7 39.9,143.9 47.1,145.2C54.3,146.5 59.6,147.1 65.9,149.0C72.2,150.8 81.9,154.0 84.7,156.5C87.6,159.0 87.6,162.6 82.9,164.0C78.2,165.4 65.6,164.7 56.5,165.0C47.4,165.3 37.7,166.1 28.2,165.9C18.8,165.8 4.7,174.4 0.0,164.0C-4.7,153.7 -4.4,113.8 0.0,103.8Z" fill="#fee394"/><path d="M0.0,105.6C4.1,96.4 20.1,103.8 24.5,105.6C28.9,107.5 27.0,113.5 26.4,116.9C25.7,120.4 22.9,123.5 20.7,126.4C18.5,129.2 14.1,131.4 13.2,133.9C12.2,136.4 11.0,139.2 15.1,141.4C19.1,143.6 30.8,145.2 37.7,147.1C44.6,149.0 50.2,150.8 56.5,152.7C62.8,154.6 75.3,156.7 75.3,158.4C75.3,160.1 62.8,162.0 56.5,163.1C50.2,164.2 43.9,165.0 37.7,165.0C31.4,165.0 25.1,163.7 18.8,163.1C12.6,162.5 3.1,170.8 0.0,161.2C-3.1,151.6 -4.1,114.9 0.0,105.6Z" fill="#fece7f"/><path d="M0.0,109.4C1.9,101.6 9.4,106.3 11.3,109.4C13.2,112.6 11.9,123.5 11.3,128.2C10.7,133.0 6.9,134.8 7.5,137.7C8.2,140.5 10.0,143.0 15.1,145.2C20.1,147.4 30.8,149.0 37.7,150.8C44.6,152.7 54.9,154.5 56.5,156.5C58.1,158.5 51.8,161.7 47.1,163.1C42.4,164.5 33.0,165.4 28.2,165.0C23.5,164.5 23.5,161.7 18.8,160.3C14.1,158.9 3.1,165.0 0.0,156.5C-3.1,148.0 -1.9,117.3 0.0,109.4Z" fill="#fdb76a"/><path d="M20.7,154.6C22.9,153.2 33.0,155.6 37.7,156.5C42.4,157.4 48.3,158.9 49.0,160.3C49.6,161.7 45.5,164.2 41.4,165.0C37.4,165.8 27.9,166.7 24.5,165.0C21.0,163.2 18.5,156.0 20.7,154.6Z" fill="#fb9c59"/><path d="M26.4,100.0C29.0,98.6 41.1,99.1 43.3,100.0C45.5,100.9 41.4,103.8 39.5,105.6C37.7,107.5 34.1,110.8 32.0,111.3C30.0,111.8 28.2,110.4 27.3,108.5C26.4,106.6 23.7,101.4 26.4,100.0Z" fill="#ef623e"/><path d="M3.8,116.9C4.7,116.0 8.0,115.2 9.4,116.0C10.8,116.8 12.6,120.2 12.2,121.7C11.9,123.1 8.9,124.5 7.5,124.5C6.1,124.5 4.4,122.9 3.8,121.7C3.1,120.4 2.8,117.9 3.8,116.9Z" fill="#fff1aa"/><path d="M37.7,105.6C38.6,104.6 43.3,102.8 45.2,102.8C47.1,102.8 49.0,104.6 49.0,105.6C49.0,106.7 46.8,108.8 45.2,109.4C43.6,110.0 40.8,110.0 39.5,109.4C38.3,108.8 36.7,106.7 37.7,105.6Z" fill="#e0f3f8"/><path d="M90.4,163.1C92.0,162.0 97.3,161.4 101.7,163.1C106.1,164.8 114.6,170.8 116.8,173.4C119.0,176.1 117.4,178.8 114.9,179.1C112.4,179.4 105.5,176.9 101.7,175.3C97.9,173.8 94.2,171.7 92.3,169.7C90.4,167.6 88.8,164.2 90.4,163.1Z" fill="#e0f3f8"/><path d="M-1.9,159.5C0.3,152.6 7.2,158.5 11.3,159.5C15.3,160.4 19.1,162.9 22.5,165.1C26.0,167.3 29.7,169.5 31.9,172.6C34.1,175.7 34.7,179.2 35.6,183.9C36.6,188.6 43.8,197.9 37.5,200.8C31.3,203.6 4.7,207.6 -1.9,200.8C-8.4,193.9 -4.1,166.4 -1.9,159.5Z" fill="#cdeaf3"/><path d="M49.0,90.4C49.9,89.5 53.4,88.2 54.6,88.5C55.9,88.8 56.8,91.2 56.5,92.3C56.2,93.4 54.0,94.8 52.7,95.1C51.5,95.4 49.6,94.9 49.0,94.2C48.3,93.4 48.0,91.3 49.0,90.4Z" fill="#e0f3f8"/><path d="M60.3,94.2C60.6,93.2 64.5,92.1 65.9,92.3C67.3,92.4 69.1,94.2 68.7,95.1C68.4,96.0 65.4,98.1 64.0,97.9C62.6,97.8 59.9,95.1 60.3,94.2Z" fill="#e0f3f8"/><path d="M156.2,177.2C159.1,176.1 169.7,175.3 175.1,175.3C180.4,175.3 186.4,176.1 188.3,177.2C190.1,178.3 189.2,180.8 186.4,181.9C183.5,183.0 176.0,183.8 171.3,183.8C166.6,183.8 160.6,183.0 158.1,181.9C155.6,180.8 153.4,178.3 156.2,177.2Z" fill="#e0f3f8"/>
<use href="#land"/>
</g></g>
<rect x="406.45" y="767.75" width="257.10" height="199.00" fill="none" stroke="#262626" stroke-width="2.7"/>
<path d="M406.45,920.83h3.7M663.55,920.83h-3.7M406.45,874.90h3.7M663.55,874.90h-3.7M406.45,828.98h3.7M663.55,828.98h-3.7M406.45,783.06h3.7M663.55,783.06h-3.7M492.22,767.75v3.7M492.22,966.75v-3.7M577.98,767.75v3.7M577.98,966.75v-3.7" stroke="#262626" stroke-width="2.3" fill="none"/>
<text class="tl" x="399.80" y="786.56" font-size="15.2" text-anchor="end">60°N</text>
<text class="tl" x="399.80" y="832.48" font-size="15.2" text-anchor="end">45°N</text>
<text class="tl" x="399.80" y="878.40" font-size="15.2" text-anchor="end">30°N</text>
<text class="tl" x="399.80" y="924.33" font-size="15.2" text-anchor="end">15°N</text>
<text class="tl" x="399.80" y="970.25" font-size="15.2" text-anchor="end">0°S</text>
<text class="tl" x="39.05" y="984.5" font-size="15.3" text-anchor="middle">90°W</text>
<text class="tl" x="124.82" y="984.5" font-size="15.3" text-anchor="middle">60°W</text>
<text class="tl" x="210.58" y="984.5" font-size="15.3" text-anchor="middle">30°W</text>
<text class="tl" x="296.35" y="984.5" font-size="15.3" text-anchor="middle">0°W</text>
<text class="tl" x="406.15" y="984.5" font-size="15.3" text-anchor="middle">90°W</text>
<text class="tl" x="491.92" y="984.5" font-size="15.3" text-anchor="middle">60°W</text>
<text class="tl" x="577.68" y="984.5" font-size="15.3" text-anchor="middle">30°W</text>
<text class="tl" x="663.45" y="984.5" font-size="15.3" text-anchor="middle">0°W</text>
<text class="sb" x="28.72" y="12.7" font-size="16.7">SSS Response (Hosing</text><rect x="219.80" y="6.95" width="13.10" height="1.9" fill="#000"/><text class="sb" x="234.82" y="12.7" font-size="16.7">Control)</text>
<text class="sb" x="395.12" y="12.7" font-size="16.7">SSH Response (Hosing</text><rect x="587.80" y="6.95" width="12.70" height="1.9" fill="#000"/><text class="sb" x="602.42" y="12.7" font-size="16.7">Control)</text>
<text x="47.05" y="41.50" font-size="19.3" font-weight="bold" fill="#000">(a)</text>
<text class="sb" x="121.00" y="41.35" font-size="16.0">Year 01</text>
<rect x="181.20" y="35.00" width="12.4" height="2.1" fill="#000"/>
<text class="sb" x="196.00" y="41.35" font-size="16.0">10</text>
<text x="47.05" y="278.75" font-size="19.3" font-weight="bold" fill="#000">(b)</text>
<text class="sb" x="121.00" y="278.60" font-size="16.0">Year 11</text>
<rect x="181.20" y="272.25" width="12.4" height="2.1" fill="#000"/>
<text class="sb" x="196.00" y="278.60" font-size="16.0">20</text>
<text x="47.05" y="520.55" font-size="19.3" font-weight="bold" fill="#000">(c)</text>
<text class="sb" x="121.00" y="520.40" font-size="16.0">Year 21</text>
<rect x="181.20" y="514.05" width="12.4" height="2.1" fill="#000"/>
<text class="sb" x="196.00" y="520.40" font-size="16.0">30</text>
<text x="47.05" y="761.35" font-size="19.3" font-weight="bold" fill="#000">(d)</text>
<text class="sb" x="121.00" y="761.20" font-size="16.0">Year 31</text>
<rect x="181.20" y="754.85" width="12.4" height="2.1" fill="#000"/>
<text class="sb" x="196.00" y="761.20" font-size="16.0">40</text>
<text x="413.80" y="41.50" font-size="19.3" fill="#000" textLength="23.56" lengthAdjust="spacingAndGlyphs">(e)</text>
<text class="sb" x="488.10" y="41.35" font-size="16.0">Year 01</text>
<rect x="548.30" y="35.00" width="12.4" height="2.1" fill="#000"/>
<text class="sb" x="563.10" y="41.35" font-size="16.0">10</text>
<text x="413.80" y="278.75" font-size="19.3" fill="#000" textLength="21.21" lengthAdjust="spacingAndGlyphs">(f)</text>
<text class="sb" x="488.10" y="278.60" font-size="16.0">Year 11</text>
<rect x="548.30" y="272.25" width="12.4" height="2.1" fill="#000"/>
<text class="sb" x="563.10" y="278.60" font-size="16.0">20</text>
<text x="413.80" y="520.55" font-size="19.3" fill="#000" textLength="24.75" lengthAdjust="spacingAndGlyphs">(g)</text>
<text class="sb" x="488.10" y="520.40" font-size="16.0">Year 21</text>
<rect x="548.30" y="514.05" width="12.4" height="2.1" fill="#000"/>
<text class="sb" x="563.10" y="520.40" font-size="16.0">30</text>
<text x="413.80" y="761.35" font-size="19.3" fill="#000" textLength="24.75" lengthAdjust="spacingAndGlyphs">(h)</text>
<text class="sb" x="488.10" y="761.20" font-size="16.0">Year 31</text>
<rect x="548.30" y="754.85" width="12.4" height="2.1" fill="#000"/>
<text class="sb" x="563.10" y="761.20" font-size="16.0">40</text>
<rect x="39.35" y="999.90" width="18.68" height="29.80" fill="#384da0"/><rect x="57.73" y="999.90" width="18.68" height="29.80" fill="#4064ac"/><rect x="76.11" y="999.90" width="18.68" height="29.80" fill="#497ab7"/><rect x="94.49" y="999.90" width="18.68" height="29.80" fill="#5a8ec1"/><rect x="112.86" y="999.90" width="18.68" height="29.80" fill="#6ba3cc"/><rect x="131.24" y="999.90" width="18.68" height="29.80" fill="#7eb5d5"/><rect x="149.62" y="999.90" width="18.68" height="29.80" fill="#92c5de"/><rect x="168.00" y="999.90" width="18.68" height="29.80" fill="#a6d5e7"/><rect x="186.38" y="999.90" width="18.68" height="29.80" fill="#b9e0ed"/><rect x="204.76" y="999.90" width="18.68" height="29.80" fill="#cdeaf3"/><rect x="223.14" y="999.90" width="18.68" height="29.80" fill="#e0f3f8"/><rect x="241.51" y="999.90" width="18.68" height="29.80" fill="#ffffbf"/><rect x="259.89" y="999.90" width="18.68" height="29.80" fill="#fee99d"/><rect x="278.27" y="999.90" width="18.68" height="29.80" fill="#fecb7c"/><rect x="39.35" y="999.90" width="257.30" height="29.80" fill="none" stroke="#262626" stroke-width="1.8"/><path d="M57.73,999.90v3.6M57.73,1029.70v-3.6M94.49,999.90v3.6M94.49,1029.70v-3.6M131.24,999.90v3.6M131.24,1029.70v-3.6M168.00,999.90v3.6M168.00,1029.70v-3.6M204.76,999.90v3.6M204.76,1029.70v-3.6M241.51,999.90v3.6M241.51,1029.70v-3.6M278.27,999.90v3.6M278.27,1029.70v-3.6" stroke="#262626" stroke-width="1.9"/><text class="tl" style="stroke-width:0.3px" x="57.73" y="1045.9" font-size="13.2" text-anchor="middle">−4</text><text class="tl" style="stroke-width:0.3px" x="94.49" y="1045.9" font-size="13.2" text-anchor="middle">−3.2</text><text class="tl" style="stroke-width:0.3px" x="131.24" y="1045.9" font-size="13.2" text-anchor="middle">−2.4</text><text class="tl" style="stroke-width:0.3px" x="168.00" y="1045.9" font-size="13.2" text-anchor="middle">−1.6</text><text class="tl" style="stroke-width:0.3px" x="204.76" y="1045.9" font-size="13.2" text-anchor="middle">−0.8</text><text class="tl" style="stroke-width:0.3px" x="241.51" y="1045.9" font-size="13.2" text-anchor="middle">0</text><text class="tl" style="stroke-width:0.3px" x="278.27" y="1045.9" font-size="13.2" text-anchor="middle">0.8</text><text x="303.95" y="1046.5" font-size="16.2" font-weight="bold" fill="#000">psu</text>
<rect x="406.45" y="999.90" width="18.66" height="29.80" fill="#b9e0ed"/><rect x="424.81" y="999.90" width="18.66" height="29.80" fill="#cdeaf3"/><rect x="443.18" y="999.90" width="18.66" height="29.80" fill="#e0f3f8"/><rect x="461.54" y="999.90" width="18.66" height="29.80" fill="#ffffbf"/><rect x="479.91" y="999.90" width="18.66" height="29.80" fill="#fff1aa"/><rect x="498.27" y="999.90" width="18.66" height="29.80" fill="#fee394"/><rect x="516.64" y="999.90" width="18.66" height="29.80" fill="#fece7f"/><rect x="535.00" y="999.90" width="18.66" height="29.80" fill="#fdb76a"/><rect x="553.36" y="999.90" width="18.66" height="29.80" fill="#fb9c59"/><rect x="571.73" y="999.90" width="18.66" height="29.80" fill="#f67f4b"/><rect x="590.09" y="999.90" width="18.66" height="29.80" fill="#ef623e"/><rect x="608.46" y="999.90" width="18.66" height="29.80" fill="#e24631"/><rect x="626.82" y="999.90" width="18.66" height="29.80" fill="#d22c27"/><rect x="645.19" y="999.90" width="18.66" height="29.80" fill="#bc1626"/><rect x="406.45" y="999.90" width="257.10" height="29.80" fill="none" stroke="#262626" stroke-width="1.8"/><path d="M424.81,999.90v3.6M424.81,1029.70v-3.6M461.54,999.90v3.6M461.54,1029.70v-3.6M498.27,999.90v3.6M498.27,1029.70v-3.6M535.00,999.90v3.6M535.00,1029.70v-3.6M571.73,999.90v3.6M571.73,1029.70v-3.6M608.46,999.90v3.6M608.46,1029.70v-3.6M645.19,999.90v3.6M645.19,1029.70v-3.6" stroke="#262626" stroke-width="1.9"/><text class="tl" style="stroke-width:0.3px" x="424.81" y="1045.9" font-size="13.2" text-anchor="middle">−0.1</text><text class="tl" style="stroke-width:0.3px" x="461.54" y="1045.9" font-size="13.2" text-anchor="middle">0</text><text class="tl" style="stroke-width:0.3px" x="498.27" y="1045.9" font-size="13.2" text-anchor="middle">0.1</text><text class="tl" style="stroke-width:0.3px" x="535.00" y="1045.9" font-size="13.2" text-anchor="middle">0.2</text><text class="tl" style="stroke-width:0.3px" x="571.73" y="1045.9" font-size="13.2" text-anchor="middle">0.3</text><text class="tl" style="stroke-width:0.3px" x="608.46" y="1045.9" font-size="13.2" text-anchor="middle">0.4</text><text class="tl" style="stroke-width:0.3px" x="645.19" y="1045.9" font-size="13.2" text-anchor="middle">0.5</text><text x="670.85" y="1046.5" font-size="16.2" font-weight="bold" fill="#000">m</text>
</svg></body></html>
